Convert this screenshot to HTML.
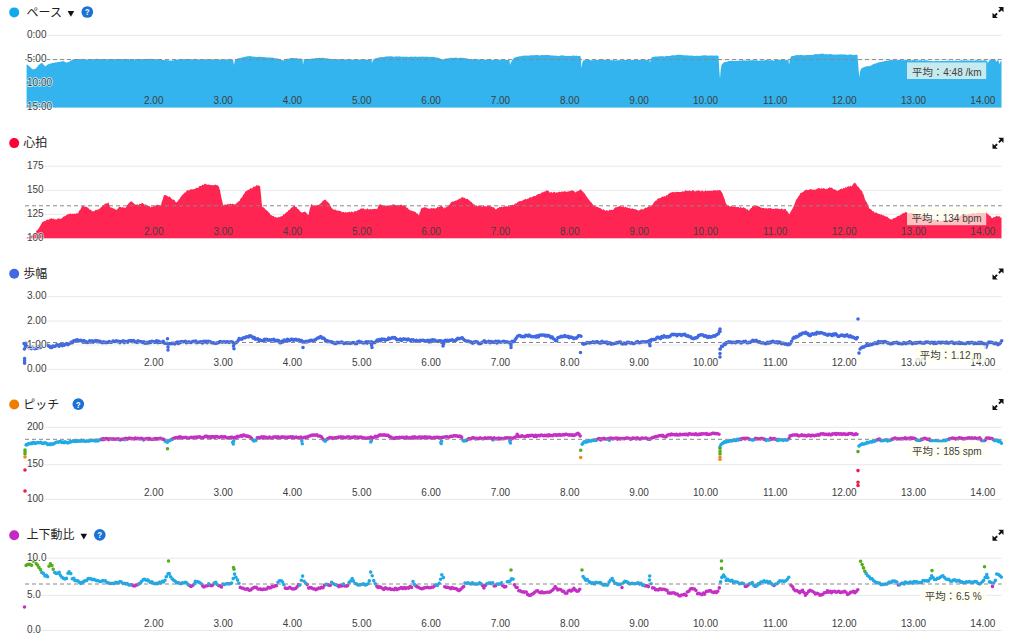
<!DOCTYPE html>
<html lang="ja"><head><meta charset="utf-8"><title>chart</title>
<style>
html,body{margin:0;padding:0;background:#fff;width:1024px;height:643px;overflow:hidden}
svg{display:block}
text{font-family:"Liberation Sans","Noto Sans CJK JP",sans-serif;fill:#404040}
.t{font-size:12px;fill:#222}
.y{font-size:10px;paint-order:stroke;stroke:#fff;stroke-width:1.5px;stroke-linejoin:round;stroke-opacity:.8}
.x{font-size:10px;text-anchor:end}
.a{font-size:10px;text-anchor:end}
.j{font-size:10.4px}
.g{stroke:#e6e6e6;stroke-width:.9;fill:none}
.d{stroke:#888;stroke-width:1;stroke-dasharray:4 3;fill:none}
.p{fill:none;stroke-width:3.6;stroke-linecap:round}
</style></head><body>
<svg width="1024" height="643" viewBox="0 0 1024 643">
<g>
<circle cx="14.2" cy="12.4" r="5" fill="#11a9ed"/>
<text class="t" x="26.6" y="16.6">ペース</text>
<path d="M67.6 10.9h6.6l-3.3 5.8z" fill="#111"/>
<circle cx="87.3" cy="12" r="5.85" fill="#1a73d4"/><text transform="translate(87.3 15.4) scale(.8 1)" x="0" y="0" font-size="9.2" font-weight="bold" style="fill:#fff" text-anchor="middle">?</text>
<g fill="#111" stroke="#111" stroke-width="1.9"><path stroke="none" d="M998.3 7h5.2v5.2z"/><path d="M1001.5 9l-2.6 2.6"/><path stroke="none" d="M992.5 12.8v5.2h5.2z"/><path d="M994.5 16l2.6 -2.6"/></g>
<path class="g" d="M25.5 35.4H1001.7"/>
<path class="g" d="M25.5 59.4H1001.7"/>
<path class="g" d="M25.5 83.4H1001.7"/>
<path class="g" d="M25.5 107.5H1001.7"/>
<path d="M26.6 107.6L26.6 64.5L27.8 65.1L29 66L30.2 67L31 68L31.4 68.4L32.6 68.9L33 69.4L33.8 69.2L35 68.7L36 68.5L36.2 68L37.4 66.8L38 66L38.6 65.1L39.8 64.2L40 64L41 63.2L42 63L42.2 63L43.4 64.4L44 65L44.6 65.8L45.5 66.5L45.8 66L47 65L48.2 64.2L49.4 63.9L50 63.5L50.6 63.6L51.8 63.2L53 62.8L54.2 62.9L55 62.5L55.4 62.2L56.6 62.6L57.8 62.1L59 61.9L60 62L60.2 61.7L61.4 61.4L62.6 61.3L63 61L63.8 61.2L65 62L66 62.5L66.2 62.6L67.4 62.2L68.6 62.1L69 62L69.8 61.2L71 60.4L72 60L72.2 59.8L73.4 59.6L74.6 59.1L75 59L75.8 58.9L77 59.1L78.2 59L79.4 58.9L80 59L80.6 59.2L81.8 59.2L83 58.9L84.2 59.2L85.4 59.2L86.6 59.4L87.8 59.4L89 59.1L90 59.3L90.2 59.6L91.4 59L92.6 59.2L93.8 59.3L95 58.9L96.2 59.1L97.4 58.8L98.6 59.1L99.8 59.2L100 59L101 59.1L102.2 59.3L103.4 59L104.6 59.2L105.8 59.2L107 59.2L108.2 59.1L109.4 59.4L110 59.2L110.6 59.5L111.8 59.1L113 59.2L114.2 58.9L115.4 59.2L116.6 59.2L117.8 59.3L119 59.2L120 59L120.2 58.9L121.4 59L122.6 59.2L123.8 58.9L125 59.2L126.2 59L127.4 59.1L128.6 59.1L129.8 59.6L130 59.4L131 59.1L132.2 59.2L133.4 59.2L134.6 59.4L135.8 58.9L137 59.1L138.2 59.1L139.4 59.3L140 59L140.6 59.2L141.8 59.2L143 58.9L144.2 58.9L145.4 58.9L146.6 59.2L147.8 59.3L149 58.8L150 59L150.2 58.8L151.4 58.9L152.6 59L153.8 59.2L155 59.3L156.2 59.2L157.4 59.1L158.6 59.4L159.8 59.4L160 59.5L161 59.6L162.2 60L163.4 60L164.6 60L165 60L165.8 60.2L167 60.3L168.2 60.1L169.4 60.7L170 60.5L170.6 60.6L171.8 60.5L173 60.4L174.2 60L175 60L175.4 59.9L176.6 59.6L177.8 59.8L179 59.3L180 59.5L180.2 59.2L181.4 59.3L182.6 59.2L183.8 59.3L185 59.1L186.2 59.1L187.4 59.1L188.6 59.1L189.8 59.2L190 59.3L191 59L192.2 59.6L193.4 59.4L194.6 59.2L195.8 59.3L197 59.3L198.2 59.4L199.4 59.3L200 59.5L200.6 59.7L201.8 59.8L203 59.5L204.2 59.5L205.4 59.3L206.6 59.3L207.8 59.4L209 59.4L210 59.5L210.2 59.7L211.4 59.3L212.6 59.2L213.8 59.8L215 59.5L216.2 59.3L217.4 59.5L218.6 59.2L219.8 59.5L220 59.5L221 59.8L222.2 59.7L223.4 59.6L224.6 59.4L225.8 59.4L227 59.3L228.2 59.7L229.4 59.5L230.6 59.7L231.8 59.4L233 59.5L234 65L234.2 63.8L235 60L235.4 59.9L236.6 59.1L237 58.5L237.8 58.6L239 58.3L240.2 58.1L241.4 57.8L242 57.5L242.6 57.2L243.8 57.2L245 56.8L246.2 56.4L247 56.5L247.4 56.2L248.6 56.2L249.8 56.1L251 56.2L252.2 56.4L253.4 56.7L254.6 56.5L255.8 56.9L257 57L258 56.8L258.2 57.1L259.4 56.8L260.6 56.8L261.8 56.9L263 56.9L264.2 57L265 57.2L265.4 57.3L266.6 57.5L267.8 57.5L269 57.4L270.2 57.5L271.4 57.7L272 57.5L272.6 57.4L273.8 57.9L275 58.2L276.2 58.4L277.4 58.6L278 58.5L278.6 58.8L279.8 59.2L280 59.5L281 60L282.2 60.1L283 60.5L283.4 60.5L284.6 60L285.8 59L286 59L287 58.8L288.2 58.9L289.4 58.5L290 58.3L290.6 58.1L291.8 58L293 57.9L294.2 58.3L295 58L295.4 58.2L296.6 57.9L297.8 58.5L299 58.7L300 58.5L300.2 58.6L301.4 58.7L302.5 59L302.6 60.2L303 65L303.8 59.5L305 59L306 59L306.2 58.7L307.4 59.2L308.6 58.9L309.8 58.7L311 58.8L312 58.5L312.2 58.4L313.4 58.6L314.6 58.5L315.8 58L317 57.9L318 58L318.2 57.9L319.4 57.8L320.6 57.9L321.8 57.7L322 57.8L323 57.9L324.2 57.8L325.4 58.4L326.6 58.2L327.8 58.5L328 58.5L329 58.7L330.2 59L331.4 58.8L332.6 59.3L333.8 59.2L335 59.3L336.2 59.3L337.4 59.4L338.6 59.1L339.8 59.4L341 59.2L342.2 59.1L343.4 59.6L344.6 59.3L345 59.5L345.8 59.5L347 59.6L348.2 59.5L349.4 59.4L350.6 59.5L351.8 59.5L353 59.7L354.2 59.3L355 59.5L355.4 59.5L356.6 59.4L357.8 59.4L359 59.7L360.2 59.6L361.4 59.7L362.6 59.8L363.8 59.9L365 59.7L366.2 59.6L367.4 59.7L368.6 59.6L369.8 59.6L371 59.6L371.5 59.5L372 63L372.2 62.4L373 60L373.4 59.7L374.6 58.8L375 58.5L375.8 58.5L377 58L378 57.5L378.2 57.7L379.4 57.6L380.6 57L381.8 57.1L382 57L383 57.2L384.2 57.1L385.4 56.6L386.6 56.5L387.8 56.6L389 56.3L390 56.5L390.2 56.3L391.4 56.2L392.6 56.6L393.8 56.7L395 56.7L396.2 56.3L397.4 56.6L398.6 56.6L399.8 56.3L400 56.5L401 56.8L402.2 56.8L403.4 56.4L404.6 56.9L405.8 56.6L407 56.7L408.2 57L409.4 57L410 56.8L410.6 56.6L411.8 56.8L413 56.8L414.2 56.7L415.4 56.6L416.6 56.7L417.8 56.9L419 56.5L420 56.8L420.2 56.8L421.4 56.8L422.6 56.5L423.8 56.7L425 56.8L426.2 56.7L427.4 56.5L428.6 57L429.8 56.9L430 56.7L431 57.1L432.2 56.8L433.4 57L434.6 57L435.8 57.6L436 57.5L437 57.6L438.2 57.8L439.4 58.3L440 58.5L440.6 59L441.8 59.4L443 59.6L444.2 59L445.4 58.5L446 58.5L446.6 58.7L447.8 58.3L449 58.2L450 58L450.2 57.7L451.4 57.7L452.6 58L453.8 57.7L455 57.7L456.2 57.5L457.4 58L458.6 57.9L459.8 58L460 57.8L461 57.6L462.2 58.1L463.4 57.7L464.6 58.2L465 58L465.8 58.2L467 58.4L468 58.8L468.2 58.9L469.4 59.2L470.6 59L471.8 59.1L472 59.3L473 59.4L474.2 59.2L475.4 59.2L476.6 59.3L477.8 59.2L479 59.4L480 59.6L480.2 59.5L481.4 59.5L482.6 59.8L483.8 59.5L485 59.7L486.2 59.5L487.4 59.7L488.6 59.5L489.8 59.6L490 59.8L491 59.5L492.2 59.9L493.4 59.8L494.6 59.6L495.8 59.8L497 60.1L498.2 59.6L499.4 60L500 59.8L500.6 59.8L501.8 59.8L503 60L504.2 59.7L505.4 59.8L506.6 59.9L507.8 60.1L509 59.7L509.5 59.8L510 65L510.2 64.6L511 62L511.4 61.5L512.6 59.7L513 59L513.8 58.3L515 57.5L516.2 57.1L517.4 56.7L518 56.8L518.6 56.5L519.8 56.2L521 56.3L522 56L522.2 55.8L523.4 55.7L524.6 55.5L525.8 55.8L527 55.5L528.2 55.7L529.4 55.5L530.6 55.2L531.8 55.2L533 55.2L534.2 55.2L535 55.2L535.4 55L536.6 55.1L537.8 55L539 55.4L540.2 55.4L541.4 55.1L542.6 54.9L543.8 55.3L545 55L546.2 55L547.4 55.1L548.6 55L549.8 55.3L551 55.4L552 55.5L552.2 55.5L553.4 55.5L554.6 55.8L555.8 55.6L557 55.9L558 56.2L558.2 55.9L559.4 55.9L560.6 55.5L561.8 55.3L562 55.6L563 55.5L564.2 55.6L565.4 55.9L566.6 55.9L567.8 56.1L568 56L569 56L570.2 55.9L571.4 55.9L572.6 55.6L573.8 55.4L574 55.5L575 55.9L576.2 55.5L577.4 55.9L578.6 56L579.8 55.7L580 56L580.8 57L581 61.8L581.3 68.5L582 64L582.2 63.5L583 60.5L583.4 60.5L584.6 60.2L585 60L585.8 60.2L587 59.8L588.2 60L589.4 60L590.6 60.2L591.8 60.2L593 60.2L594.2 60.1L595 60L595.4 60.2L596.6 60.1L597.8 60.1L599 59.8L600.2 59.6L601.4 59.7L602.6 59.8L603.8 59.6L605 59.8L606.2 60.1L607.4 60L608.6 60.1L609.8 60.1L611 60.2L612.2 60.2L613.4 59.9L614.6 60.5L615 60.3L615.8 60.4L617 60.2L618.2 60.2L619.4 60.3L620.6 59.9L621.8 60.2L623 59.9L624.2 59.8L625 60L625.4 59.9L626.6 60.1L627.8 59.8L629 60.1L630.2 60.3L631.4 60L632.6 59.9L633.8 60L635 60L636.2 60.1L637.4 60.1L638.6 60L639.8 60L641 59.6L642.2 59.6L643.4 59.7L644.6 60L645 59.8L645.8 59.7L647 59.9L648.2 59.6L649.4 59.7L649.5 60L650 63L650.6 59.9L650.8 59L651.8 57.4L652 57L653 57L654.2 56.8L655.4 56.4L656 56.5L656.6 56.5L657.8 56.4L659 56.4L660.2 56.1L661.4 56.6L662 56.3L662.6 56.1L663.8 56.5L665 56.4L666.2 55.8L667.4 56L668 56L668.6 56.1L669.8 56.1L671 55.6L672 55.5L672.2 55.3L673.4 55.2L674.6 55.4L675.8 54.9L676 55L677 55L678.2 54.7L679.4 54.8L680 54.8L680.6 55.1L681.8 54.7L683 55.2L684.2 55.2L685.4 55.5L686 55.3L686.6 55.5L687.8 55.3L689 55.8L690.2 55.6L691.4 55.5L692 55.8L692.6 55.5L693.8 55.9L695 55.9L696.2 55.8L697.4 55.8L698 56L698.6 55.8L699.8 55.7L701 55.9L702.2 55.2L703.4 55.5L704 55.3L704.6 55.5L705.8 55.1L707 55.7L708.2 55.6L709.4 55.7L710 55.5L710.6 55.4L711.8 55.4L713 55.4L714.2 55.8L715.4 55.6L716 55.5L716.6 55.5L717.8 55.7L718.5 55.8L719 64.5L719.3 70L720 78.7L720.2 75.9L720.7 70L721.4 65.4L721.5 65L722.6 63.7L723 63L723.8 62.5L725 62L726.2 62L727.4 61.4L728.6 61.1L729.8 61L730 61L731 60.8L732.2 60.8L733.4 61.1L734.6 61L735 60.7L735.8 60.9L737 60.7L738.2 60.8L739.4 60.8L740 60.5L740.6 60.5L741.8 60.6L743 60.2L744.2 60.6L745.4 60.4L746.6 60.5L747.8 60.4L749 60.2L750 60.3L750.2 60L751.4 60.6L752.6 60.1L753.8 60.4L755 60.3L756.2 60.3L757.4 60.6L758.6 60.8L759.8 60.4L760 60.5L761 60.6L762.2 60.3L763.4 60.4L764.6 60.3L765.8 60.1L767 60.1L768.2 60.1L769.4 60.5L770 60.2L770.6 60.2L771.8 60L773 60.4L774.2 60.4L775.4 60.1L776.6 59.9L777.8 59.9L779 59.8L780 60L780.2 59.9L781.4 59.8L782.6 59.8L783.8 59.9L785 60L786.2 60.2L787.4 60.1L788.5 60L788.6 60.9L789 65L789.8 60L791 56.5L792.2 56.1L793.4 55.9L794.6 55.5L795 55.5L795.8 55.3L797 55L798.2 55L799.4 55.3L800 55L800.6 54.8L801.8 55.1L803 55.2L804.2 55.4L805.4 55L806 55.2L806.6 55L807.8 54.9L809 54.9L810.2 54.9L811.4 55.1L812 54.8L812.6 54.9L813.8 54.8L815 54.1L816 54.2L816.2 53.9L817.4 54.2L818.6 54.2L819.8 53.8L820 53.8L821 53.9L822.2 53.6L823.4 53.8L824.6 54.2L825.8 54.2L826 54L827 54.3L828.2 54.5L829.4 54.1L830.6 54.1L831.8 54.3L832 54.5L833 54.5L834.2 54.5L835.4 54.7L836.6 54.5L837.8 54.4L838 54.3L839 54.5L840.2 54.3L841.4 54.4L842.6 54.2L843.8 54.6L845 54.5L846.2 54.4L847.4 54.9L848.6 54.7L849.8 54.6L851 54.5L852 54.8L852.2 54.7L853.4 54.9L854.6 55L855.8 54.7L857 54.7L857.5 55L858.2 64.6L858.3 66L859.3 77.5L859.4 76.8L860 72L860.6 70.1L861 69L861.8 68.2L863 67.5L864.2 67.2L865.4 66.4L866 66.5L866.6 66.3L867.8 66.2L869 66.3L870 65.8L870.2 65.8L871.4 65.4L872.6 64.6L873.8 63.9L874 64L875 63.4L876.2 63.4L877 62.8L877.4 62.8L878.6 62.4L879.8 62L881 62L882.2 61.7L883.4 61.5L884.6 61.1L885 61L885.8 60.7L887 60.8L888.2 60.8L889.4 60.2L890 60.3L890.6 60L891.8 60.1L893 60.1L894.2 60.2L895 60L895.4 59.8L896.6 60.2L897.8 60.1L899 60L900.2 59.8L901.4 60.3L902.6 59.9L903.8 60.2L905 60L906.2 59.9L907.4 59.9L908.6 60.3L909.8 60L911 60.5L912.2 60.2L913.4 60.1L914.6 60.1L915 60.3L915.8 60.3L917 60.4L918.2 60.6L919.4 60.2L920.6 60.3L921.8 60.3L923 60.7L924.2 60.3L925 60.5L925.4 60.3L926.6 60.3L927.8 60.6L929 60.9L930.2 61L931.4 61L932.6 61.2L933.8 61.2L935 61L936.2 60.9L937.4 60.8L938.6 61.3L939.8 61.1L941 60.7L942.2 61.1L943.4 60.9L944.6 60.9L945 61L945.8 60.9L947 60.8L948.2 60.6L949.4 60.8L950.6 60.8L951.8 61.1L953 60.6L954.2 61.1L955 60.8L955.4 60.6L956.6 60.7L957.8 60.9L959 60.9L960.2 60.6L961.4 60.3L962.6 60.6L963.8 60.5L965 60.5L966.2 60.8L967.4 60.3L968.6 60.4L969.8 60.7L971 60.2L972.2 60.4L973.4 60.7L974.6 60.7L975 60.5L975.8 60.2L977 60.2L978.2 60.2L979.4 60.7L980.6 60.2L981.8 60.5L983 60.6L984.2 60.2L985 60.3L985.4 60.3L986.6 61.1L987 61L987.8 62.7L988 63L989 61L990.2 59.7L990.5 59.5L991.4 59.6L992.6 59.2L993 59.3L993.8 59.3L995 59.4L995.5 59.8L996.2 61.9L996.3 62L997.2 60L997.4 60.3L998.5 60.5L998.6 60.9L999.5 64L999.8 63.5L1000.3 62L1001 61.1L1001.5 61L1001.5 107.6Z" fill="#33b4ee"/>
<path class="d" d="M25 59.6H1001.7"/>
<text class="y" x="27" y="37.9">0:00</text>
<text class="y" x="27" y="61.9">5:00</text>
<text class="y" x="27" y="85.9">10:00</text>
<text class="y" x="27" y="110">15:00</text>
<text class="x" x="163.5" y="104.2">2.00</text>
<text class="x" x="232.9" y="104.2">3.00</text>
<text class="x" x="302.2" y="104.2">4.00</text>
<text class="x" x="371.5" y="104.2">5.00</text>
<text class="x" x="440.8" y="104.2">6.00</text>
<text class="x" x="510.1" y="104.2">7.00</text>
<text class="x" x="579.5" y="104.2">8.00</text>
<text class="x" x="648.8" y="104.2">9.00</text>
<text class="x" x="718.1" y="104.2">10.00</text>
<text class="x" x="787.4" y="104.2">11.00</text>
<text class="x" x="856.7" y="104.2">12.00</text>
<text class="x" x="926.1" y="104.2">13.00</text>
<text class="x" x="995.4" y="104.2">14.00</text>
<rect x="907" y="62.4" width="79.2" height="16.6" fill="#ffffee" fill-opacity="0.72"/>
<text class="a" x="981.6" y="75.7"><tspan class="j">平均：</tspan>4:48 /km</text>
</g>
<g>
<circle cx="14.2" cy="143.1" r="5" fill="#ff0035"/>
<text class="t" x="23.2" y="147.3">心拍</text>
<g fill="#111" stroke="#111" stroke-width="1.9"><path stroke="none" d="M998.3 137.7h5.2v5.2z"/><path d="M1001.5 139.7l-2.6 2.6"/><path stroke="none" d="M992.5 143.5v5.2h5.2z"/><path d="M994.5 146.7l2.6 -2.6"/></g>
<path class="g" d="M25.5 166.2H1001.7"/>
<path class="g" d="M25.5 190.4H1001.7"/>
<path class="g" d="M25.5 214.3H1001.7"/>
<path class="g" d="M25.5 238.1H1001.7"/>
<path d="M26.6 238.3L26.6 238L27.6 237.3L28.6 237.4L29.6 237.8L30 237L30.6 237.2L31.6 235.6L32.6 234.7L33.6 234.2L34 234L34.6 233.3L35.6 232.8L36.6 230.6L37.5 230L37.6 230.3L38.6 228.6L39.6 227.1L40 226L40.6 225.3L41.6 223.4L42 222.5L42.6 222L43.6 221.4L44.6 221L45.6 221.1L46 220.5L46.6 219.7L47.6 219.5L48.6 219.9L49.6 218.8L50 219L50.6 218.4L51.6 218.3L52.6 219L53.6 218.6L54.6 219.5L55 218.8L55.6 219.4L56.6 219.5L57.6 218.6L58.6 218.4L59.6 218.4L60 219L60.6 218.7L61.6 218.5L62 218L62.6 217.5L63.6 216.6L64.6 216.2L65 216L65.6 215.7L66.6 215.1L67.6 214.4L68 213.8L68.6 214.3L69.6 214L70.6 213.3L71.6 214.3L72.6 213.5L73 213.8L73.6 213.9L74.6 213.5L75.6 214L76.6 213.2L77.6 213.2L78 213.5L78.6 212.1L79.6 210.2L80 210L80.6 209.3L81.6 206.9L82 206L82.6 205.9L83.6 206.1L84.6 207.1L85 206.5L85.6 206.7L86.6 206.7L87.6 207.8L88 207.5L88.6 208.3L89.6 209.8L90 209.5L90.6 209.4L91.6 210.7L92 211L92.6 211.3L93.6 211.2L94.6 211.1L95 210.5L95.6 209.8L96.6 209.9L97.6 209.5L98 210L98.6 209L99.6 209.1L100 208L100.6 207.5L101.6 207L102.6 205.2L103 205L103.6 205.2L104.6 204.1L105.6 203.4L106 203.5L106.6 203.5L107.6 203.2L108 202.3L108.6 202.8L109 204L109.6 205.9L110 207L110.6 207.5L111.6 207.4L112.6 208.1L113 208.5L113.6 208.3L114.6 208.9L115.6 209.5L116 210L116.6 209.7L117.6 209L118 208.5L118.6 207.6L119.6 206.6L120 207L120.6 206.9L121.6 207.5L122.6 207L123 207.5L123.6 207.4L124.6 207.5L125 208L125.6 207.7L126.6 206.2L127.6 204.4L128 204.5L128.6 203.2L129.6 202.5L130.6 201.5L131 201L131.6 201.8L132.6 202L133 203L133.6 202.9L134.6 204.3L135.6 204.6L136 205L136.6 204.5L137.6 204.3L138.6 205L139.6 203.8L140 204L140.6 203.9L141.6 203.3L142.6 203L143 203L143.6 203.9L144.6 204.7L145.6 204.4L146.6 204.8L147 205.5L147.6 206.1L148.6 205.9L149.6 206.1L150 207L150.6 207.4L151.6 206.5L152.6 206.8L153.6 206L154 206L154.6 206.4L155.6 205.5L156.6 204.9L157.6 204.4L158 205L158.6 205.1L159.6 205.2L160.6 205.6L161 205L161.6 202.4L162.5 200L162.6 199.8L163.6 196.2L164 195L164.6 195.2L165.6 195L166.6 195.6L167 196L167.6 196.2L168.6 197.1L169.6 196.3L170 197L170.6 197.5L171.6 198.8L172.6 199.8L173 199.5L173.6 199.6L174.6 200.3L175.6 202.3L176 202L176.6 202.4L177.6 201.2L178 201L178.6 199.5L179.6 199.2L180 198L180.6 196.9L181.6 196.2L182 195L182.6 194.7L183.6 194.1L184.6 192.4L185 192.5L185.6 192.4L186.6 190.8L187.6 190.2L188 190L188.6 190.4L189.6 190.3L190.6 189.2L191.6 189.2L192 189.5L192.6 189.3L193.6 189.3L194.6 188.9L195 189L195.6 188.2L196.6 187.8L197.6 188L198 187.5L198.6 187.6L199.6 185.7L200 186L200.6 185.9L201.6 185.8L202.6 184.5L203 185L203.6 185.1L204.6 183.5L205 183.8L205.6 184.1L206.6 184.4L207.6 184.8L208 184.8L208.6 184.6L209.6 184.8L210 185L210.6 185.1L211.6 185L212.6 185.4L213.6 185.1L214 185.2L214.6 185.1L215.6 184.4L216.6 185.2L217 185L217.6 185.6L218.6 186.2L219 187L219.6 189.2L220 190L220.6 193.6L221.5 198L221.6 198.4L222.6 202.7L223 205L223.6 205L224.6 204.4L225.6 204.5L226 205L226.6 204.8L227.6 204L228.6 204.3L229.6 204.1L230 204L230.6 203.4L231.6 204.2L232.6 203.4L233.6 204.3L234.6 204.4L235.6 204L236 204L236.6 202.8L237.6 202.4L238 202L238.6 201.2L239.6 201L240 200L240.6 198.5L241.6 197.8L242.6 196.4L243 195L243.6 194.5L244.6 193.3L245.6 191.1L246 191L246.6 191.3L247.6 189.9L248.6 189.9L249 189L249.6 189.4L250.6 188L251.6 188.5L252 188L252.6 188.3L253.6 186.6L254.6 186.5L255.6 186.6L256 186L256.6 184.9L257 185L257.6 185.8L258.6 185.2L259.6 186.3L260 186L260.6 190.9L261 195L261.6 201.6L262 206L262.6 207.2L263.6 207.2L264 208L264.6 208.3L265.6 209.6L266 210L266.6 210.3L267.6 211L268.6 212.2L269.6 213.1L270 214L270.6 215L271.6 215.3L272.6 216.3L273 216L273.6 215.8L274.6 217.2L275.6 216.8L276 217.5L276.6 217.4L277.6 217.4L278.6 216.9L279 217L279.6 217.3L280.6 216.5L281.6 216.2L282 216L282.6 216L283.6 214.1L284.6 214.5L285 213.5L285.6 213.2L286.6 212L287.6 211.8L288 211L288.6 210.1L289.6 210.1L290.6 208.5L291 208L291.6 207.4L292.6 207.2L293.6 206L294 205.8L294.6 205.7L295.6 207.1L296 207L296.6 207L297.6 209L298 209L298.6 209.3L299.6 210.8L300 211L300.6 212.1L301.6 212.3L302 212.5L302.6 212.6L303.6 212L304.6 211.4L305 212L305.6 211.9L306.6 213.1L307 214L307.6 214.6L308.5 215L308.6 214.4L309.5 210L309.6 209.7L310.6 206.5L311 204.5L311.6 204.3L312.6 204.9L313 205.5L313.6 205.9L314.6 205.2L315 206L315.6 205.2L316.6 205.4L317 205.5L317.6 204.8L318.6 204.9L319 205L319.6 204L320.6 203.5L321.6 202.5L322 202L322.6 201L323.6 200.6L324 200L324.6 200L325.6 199.5L326 200L326.6 201.4L327.6 201.6L328 202.5L328.6 202.8L329.6 203.9L330 205L330.6 206.1L331.6 207.9L332 208L332.6 209L333.6 209.5L334 210L334.6 209.8L335.6 209.6L336.6 210.6L337 210.5L337.6 210.7L338.6 210.6L339.6 211.1L340 211L340.6 211.1L341.6 212.1L342.6 212.2L343 212L343.6 211.7L344.6 212.8L345.6 211.8L346 212.5L346.6 212.5L347.6 212.2L348.6 211.9L349.6 211.5L350.6 212.4L351 212L351.6 211.3L352.6 211.9L353.6 212.4L354.6 211.1L355.6 211.1L356 211.5L356.6 211.2L357.6 210.3L358 210L358.6 210L359.6 209.8L360.6 208.5L361 208.8L361.6 208.6L362.6 208.6L363.6 208.3L364.6 209.5L365.6 209.4L366 209L366.6 209.3L367.6 208.3L368.6 209.5L369.6 209.3L370 209L370.6 209L371.6 209.5L372.6 209.1L373.6 208.9L374 209.3L374.6 208.8L375.6 209L376.6 208.8L377 209.5L377.6 207.9L378.5 206L378.6 206.2L379.6 204.7L380 203.8L380.6 204.6L381.6 205.1L382 205L382.6 205L383.6 205.9L384 206L384.6 205.8L385.6 206.2L386.6 205.7L387.6 205.2L388 205.5L388.6 205.6L389.6 206L390.6 204.8L391.6 205.6L392 205L392.6 204.3L393.6 204.7L394.6 204.6L395.6 205.3L396 205L396.6 205.6L397.6 205.3L398.6 204.8L399.6 205.5L400 205L400.6 204.8L401.6 204.8L402.6 205.8L403.6 205.5L404.6 205.7L405 205.5L405.6 206.3L406.6 207.8L407 207.5L407.6 208L408.6 209.3L409.6 209.9L410 210L410.6 210.7L411.6 210.4L412.6 211.2L413 211L413.6 211.4L414.6 211.5L415 212L415.6 212L416.6 213.4L417 213.5L417.6 213.4L418.6 215.3L419 215L419.6 212.9L420.5 211L420.6 210.1L421.6 207.9L422 207.5L422.6 208.2L423.6 207.5L424.6 207.3L425.6 207.3L426 208L426.6 207.4L427.6 208.5L428.6 208.5L429.6 208.7L430 208.5L430.6 208.8L431.6 207.8L432.6 208.4L433.6 208L434.6 208.6L435.6 208.5L436 208L436.6 208.2L437.6 206.6L438 207L438.6 207.2L439.6 206.8L440.6 206.3L441 205.5L441.6 205.5L442.5 207L442.6 206.7L443.6 207.8L444 208.8L444.6 207.6L445.6 207.8L446 207L446.6 207.1L447.6 206.4L448 206L448.6 205.9L449.6 204.6L450 204L450.6 203.1L451.6 201.8L452 202L452.6 201.2L453.6 201.8L454.6 200.7L455 201L455.6 200.5L456.6 200.4L457.6 199.5L458 200L458.6 199.2L459.6 198.5L460 198.5L460.6 198.5L461.6 197.5L462.6 196.9L463 197L463.6 197.9L464.6 197.8L465 198L465.6 198.8L466.6 199L467 199L467.6 198.7L468.6 199.9L469.6 200.6L470 201L470.6 201.8L471.6 202L472 202.5L472.6 203.4L473.6 204.2L474 204.5L474.6 204.6L475.6 206.2L476 206L476.6 205.4L477.6 206.4L478.6 205.5L479.6 205.3L480 206L480.6 205.6L481.6 206.4L482.6 206.8L483.6 205.5L484.6 206.2L485 206.2L485.6 206.2L486.6 206.6L487.6 205.7L488.6 206L489.6 205.8L490 206L490.6 206.7L491.6 206.2L492.6 207.5L493 207L493.6 207.2L494.6 207.9L495.6 209.4L496 209.5L496.6 209L497.6 207.8L498 208L498.6 207.9L499.6 206.6L500 207L500.6 207.3L501.6 207.1L502.6 207.1L503.6 206.8L504.6 206.3L505 206.5L505.6 206.3L506.6 206.2L507.6 206.8L508.6 205.6L509.6 206.6L510 206L510.6 205.1L511.6 205.1L512.6 204.8L513 205L513.6 205.2L514.6 204L515 203.8L515.6 203.3L516.6 203.4L517.6 201.9L518 202L518.6 201.6L519.6 201.2L520 201L520.6 201.2L521.6 200.9L522.6 200.4L523.6 199.7L524 199.8L524.6 199.4L525.6 198.8L526.6 199.4L527 198.8L527.6 198.8L528.6 198.4L529.6 197.2L530 197.5L530.6 197.3L531.6 197.5L532 197L532.6 196.9L533.6 195.9L534.6 196.1L535 196L535.6 196.2L536.6 194.8L537 195L537.6 194.3L538.6 193.9L539.6 194L540 193.5L540.6 193.8L541.6 192.5L542.6 192.2L543 192.5L543.6 191.8L544.6 191.5L545 191.5L545.6 191.2L546.6 190.2L547 190.5L547.6 190.6L548.6 190.9L549 191.5L549.6 192.4L550.6 192.4L551.6 191.8L552 192.5L552.6 193.1L553.6 191.8L554.6 192.1L555.6 192.9L556 192.2L556.6 192.6L557.6 192.4L558.6 192L559.6 191.6L560 192L560.6 192.2L561.6 191.4L562.6 191.5L563.6 191.7L564 191.8L564.6 191.1L565.6 191.5L566.6 191.9L567 191.5L567.6 191.7L568.6 191.2L569.6 191.3L570 191L570.6 190.8L571.6 190.2L572.6 190.7L573 190.5L573.6 190.8L574.5 191.5L574.6 191.9L575.6 192.4L576 192L576.6 191.6L577.6 191.3L578 191L578.6 191L579.6 190.1L580.6 189.3L581 189.5L581.6 190.4L582.6 191.6L583 191.5L583.6 192.6L584.6 193.6L585 193.8L585.6 195.3L586.6 196.6L587 197L587.6 198.1L588.6 199.2L589.6 200.5L590 201.3L590.6 202.1L591.6 202.5L592 203.5L592.6 204L593.6 205.5L594 205.5L594.6 206.1L595.6 206.5L596.6 206.5L597 207L597.6 207.1L598.6 207.5L599.6 208L600 208L600.6 208.2L601.6 209L602.6 209.9L603 209.5L603.6 209.3L604.6 210.2L605.6 210.8L606 210.5L606.6 210.3L607.6 210.4L608.6 211L609 210.3L609.6 209.6L610.6 210.2L611.6 209.6L612 210L612.6 209.9L613.6 209.4L614 208.5L614.6 208.2L615.6 207.1L616 207.5L616.6 207.3L617.6 206.8L618 206.5L618.6 206.7L619.6 206.1L620 206L620.6 206.3L621.6 206.7L622.6 206.5L623 206.5L623.6 206.5L624.6 207.4L625.6 206.5L626 207L626.6 207.5L627.6 207.4L628.6 208.2L629 208L629.6 207.6L630.6 209.1L631.6 208.5L632 208.8L632.6 208.3L633.6 208.9L634.6 209.3L635.6 209L636 209.8L636.6 209.8L637.6 210.1L638.6 210.7L639 210.5L639.6 210.1L640.6 209.5L641.6 209.1L642 209.3L642.6 209.4L643.6 209.2L644.6 208.2L645 208L645.6 207.4L646.6 207.9L647.6 207L648 207L648.6 206.4L649.6 205.9L650.6 206.4L651.6 206.1L652 205.5L652.6 204.7L653.5 203L653.6 202.8L654.6 201.8L655 201.3L655.6 200.4L656.6 200.5L657 199.5L657.6 198.8L658.6 198.5L659 198L659.6 198.2L660.6 197.9L661.6 197.1L662 197L662.6 196.6L663.6 196.7L664.6 195.9L665 196.3L665.6 196.4L666.6 195.1L667.6 195.2L668 194.5L668.6 193.8L669.6 193.3L670.6 192.4L671 192.5L671.6 192.4L672.6 192L673.6 191.7L674.6 192.6L675 192.3L675.6 192L676.6 191.8L677.6 191.9L678.6 192.1L679.6 191.9L680 192L680.6 192L681.6 191.8L682.6 191.2L683.6 191.7L684 191L684.6 191.4L685.6 190.1L686.6 191L687 190.5L687.6 191.1L688.6 191L689.6 190.2L690.6 191.2L691.6 191L692 190.8L692.6 190.2L693.6 190.2L694.6 191.6L695.6 191.2L696 191L696.6 190.7L697.6 190.4L698.6 190.5L699.6 190.6L700 191L700.6 191.4L701.6 190.7L702.6 190.4L703.6 191.4L704.6 191.2L705 190.8L705.6 190.3L706.6 191.3L707.6 190.8L708.6 191L709.6 190.8L710 190.5L710.6 191L711.6 190.8L712.6 190.9L713.6 189.9L714.6 190.6L715 190.3L715.6 190.3L716.6 190.5L717.6 190.1L718.6 190.6L719.6 190.1L720 190L720.6 190.5L721.5 192L721.6 191.8L722.6 193.7L723 195L723.6 196.6L724.5 199L724.6 198.7L725.6 202.5L726 203.8L726.6 204L727 205L727.6 205.6L728 206L728.6 206L729.6 206.2L730.6 206.7L731.6 205.6L732 206.3L732.6 206.8L733.6 206.4L734.6 206.6L735 206.5L735.6 206.8L736.6 207.2L737.6 206.7L738.6 207L739.6 207.9L740 207.3L740.6 206.8L741.6 207.7L742.6 207.9L743.6 207.1L744.6 208.1L745 208L745.6 208.6L746.6 209.6L747 209.2L747.6 209.3L748.6 210.8L749 210.4L749.6 209.7L750.6 208.5L751 208L751.6 208L752.6 205.7L753 206L753.6 206.3L754.6 206.2L755.5 206L755.6 205.8L756.6 206.5L757.6 205.8L758 206L758.6 206.3L759.6 206.8L760 207L760.6 207.7L761.6 207.4L762 208L762.6 207.9L763.6 208L764.6 208.2L765.6 208.6L766.6 207.9L767.6 208.7L768.6 208.1L769.6 208.3L770 208.3L770.6 208L771.6 208.4L772.6 209.1L773.6 208.7L774.6 208.9L775.6 208.3L776.6 208.4L777.6 208.4L778 208.7L778.6 208.8L779.6 209L780.6 209.2L781.6 208.2L782.6 209.2L783.6 209.5L784.6 209L785 209L785.6 209.1L786.6 210.7L787 211.5L787.6 211.6L788.6 213.3L789 214.3L789.6 213.9L790.6 211.8L791 211L791.6 210.2L792.6 208.6L793 207.5L793.6 206.7L794.5 204L794.6 203.9L795.6 201.2L796 200L796.6 199.3L797.6 197.9L798 197L798.6 196.2L799.6 194.9L800 194L800.6 193.1L801.6 193L802.5 192L802.6 191.9L803.6 191.7L804.6 190.2L805 190.5L805.6 189.9L806.6 189.4L807.6 190.2L808 189.7L808.6 190.1L809.6 189.5L810.6 188.9L811 189L811.6 189.6L812.6 189.8L813 189.5L813.6 189.7L814.6 189.6L815 190L815.6 189.4L816.6 189.1L817 189L817.6 188.4L818.6 188.1L819 188L819.6 188.3L820.6 188.9L821.6 187.8L822 188.5L822.6 188.7L823.6 188.1L824.6 188.4L825 189L825.6 189.3L826.6 188.7L827.6 189L828 188.3L828.6 188.1L829.6 187.3L830.6 187.7L831.6 187.8L832 187.6L832.6 188.6L833.6 189.4L834.5 189.3L834.6 189.3L835.6 189.9L836.6 190.2L837 191L837.6 191L838.6 190L839.5 190L839.6 189.5L840.6 188.9L841.6 188.5L842 189L842.6 189L843.6 187.8L844.6 188.6L845 187.8L845.6 187L846.6 187.7L847.6 186.3L848 186.7L848.6 185.9L849.6 186.7L850 186.3L850.6 185.8L851.6 186.4L852 186L852.6 184.8L853.5 184L853.6 183.3L854.6 183.1L855 182.3L855.6 183.5L856.5 184.5L856.6 185.1L857.6 186.4L858 186.7L858.6 186.8L859.6 188.7L860 189L860.6 189.9L861.6 190.5L862 191L862.6 193.1L863.6 194.7L864 196L864.6 198.3L865.6 200.7L866 201.5L866.6 202L867.6 204L868 205.5L868.6 206.8L869.6 208.7L870 209L870.6 208.9L871.6 209.9L872 210.5L872.6 211.3L873.6 211.2L874 212L874.6 212.7L875.6 212.6L876.6 212.4L877 213.2L877.6 213.2L878.6 213.9L879.6 214.1L880 214.3L880.6 214.7L881.6 214.3L882.6 215.6L883 215.3L883.6 215.3L884.6 216.1L885.6 216.4L886 216.4L886.6 216.6L887.6 217.1L888.6 218.2L889 218L889.6 218.9L890.6 219.3L891.6 219.5L892 219.6L892.6 218.9L893.6 218L894.5 218L894.6 218.6L895.6 217.6L896.6 217.1L897 216.4L897.6 215.9L898.6 215.8L899.6 215.9L900 215L900.6 215.1L901.6 214.3L902.6 213.3L903 213.4L903.6 213L904.6 213.1L905 212.3L905.6 212.1L906.6 212.6L907 212.3L907.6 212.6L908.6 213.2L909.6 213.4L910.6 212.9L911.6 212.7L912 213.5L912.6 213.3L913.6 213.9L914.6 214.4L915.6 215L916.6 215.4L917 215L917.6 214.5L918.6 215.8L919.6 216L920.6 216.2L921.6 216L922 216L922.6 215.9L923.6 217L924.6 217.2L925.6 217.3L926.6 218L927.6 217.5L928 217.8L928.6 217.4L929.6 218.3L930.6 219L931.6 218.4L932.6 219.5L933.6 220L934 219.5L934.6 219.3L935.6 220.1L936.6 220.5L937.6 220.5L938.6 220.5L939 221L939.6 220.6L940.6 221.2L941.6 221.1L942.6 220.6L943.6 220L944 220.5L944.6 220.8L945.6 220.6L946.6 219.7L947.6 220.1L948.6 220.4L949.6 220.2L950 219.6L950.6 219.4L951.6 219.1L952.6 218.9L953.6 218L954.6 217.7L955 218L955.6 217.3L956.6 217.7L957.6 216.9L958.6 216.8L959.6 216.2L960 216.2L960.6 216L961.6 215.1L962.6 214.6L963.6 215.5L964 214.7L964.6 214.5L965.6 214L966.6 214.6L967.6 214.7L968.6 213.7L969.6 214.2L970 214L970.6 213.7L971.6 213.8L972.6 213L973.6 212.8L974.6 214L975 213.3L975.6 213.8L976.6 213.1L977.6 213.1L978.6 212.6L979.6 213.2L980 212.8L980.6 212.7L981.6 213.4L982.6 213.1L983.6 213.1L984.6 213.3L985.5 212.6L985.6 212.3L986.6 212.8L987 213.7L987.6 213.8L988.6 214.7L989 215.5L989.6 215.5L990.6 216.3L991.6 217.9L991.8 218L992.6 218.2L993.6 217.1L994 217L994.6 217.3L995.6 216.8L996 216L996.6 215.5L997.6 216.4L998 216.3L998.6 216.4L999.6 216.3L1000.6 217.8L1001.5 217.5L1001.5 238.3Z" fill="#ff2553"/>
<path class="d" d="M25 205.8H1001.7"/>
<text class="y" x="27" y="168.7">175</text>
<text class="y" x="27" y="192.9">150</text>
<text class="y" x="27" y="216.8">125</text>
<text class="y" x="27" y="240.6">100</text>
<text class="x" x="163.5" y="234.8">2.00</text>
<text class="x" x="232.9" y="234.8">3.00</text>
<text class="x" x="302.2" y="234.8">4.00</text>
<text class="x" x="371.5" y="234.8">5.00</text>
<text class="x" x="440.8" y="234.8">6.00</text>
<text class="x" x="510.1" y="234.8">7.00</text>
<text class="x" x="579.5" y="234.8">8.00</text>
<text class="x" x="648.8" y="234.8">9.00</text>
<text class="x" x="718.1" y="234.8">10.00</text>
<text class="x" x="787.4" y="234.8">11.00</text>
<text class="x" x="856.7" y="234.8">12.00</text>
<text class="x" x="926.1" y="234.8">13.00</text>
<text class="x" x="995.4" y="234.8">14.00</text>
<rect x="907" y="208.6" width="79.2" height="16.6" fill="#ffffee" fill-opacity="0.72"/>
<text class="a" x="981.6" y="221.9"><tspan class="j">平均：</tspan>134 bpm</text>
</g>
<g>
<circle cx="14.2" cy="273.8" r="5" fill="#4169e1"/>
<text class="t" x="23.2" y="278">歩幅</text>
<g fill="#111" stroke="#111" stroke-width="1.9"><path stroke="none" d="M998.3 268.4h5.2v5.2z"/><path d="M1001.5 270.4l-2.6 2.6"/><path stroke="none" d="M992.5 274.2v5.2h5.2z"/><path d="M994.5 277.4l2.6 -2.6"/></g>
<path class="g" d="M25.5 296.7H1001.7"/>
<path class="g" d="M25.5 321H1001.7"/>
<path class="g" d="M25.5 345H1001.7"/>
<path class="g" d="M25.5 369.3H1001.7"/>
<path class="p" stroke="#4169e1" d="M26.5 346h0M27.8 347.1h0M28.8 347.6h0M29.8 347.4h0M31.3 348.6h0M32.1 347.3h0M33.3 347.5h0M34.7 348.6h0M35.5 348.4h0M36.9 348.2h0M38.2 347.7h0M39 346.3h0M40.5 347.4h0M47.2 345.1h0M48.6 346.1h0M49.5 346.2h0M50.6 347.4h0M51.8 347.4h0M52.9 346.1h0M54 346.3h0M55.2 346.3h0M56.7 344.9h0M57.8 345.1h0M59 346.3h0M59.9 344.8h0M61.3 344.6h0M62.3 345.8h0M63.3 344.8h0M64.5 345.1h0M65.6 344.3h0M66.7 343.6h0M68 344.7h0M69.3 343.5h0M70.3 343.3h0M71.4 342.1h0M72.5 342.6h0M73.7 340.8h0M75.1 340.6h0M76.2 340h0M77.4 339.7h0M78.2 341h0M79.4 340.7h0M80.5 340.4h0M82 340.8h0M83.1 342.2h0M84 340.6h0M85.1 342.3h0M86.3 341.9h0M87.4 342.4h0M88.6 342.1h0M89.7 340.8h0M91 342.1h0M92.1 340.8h0M93.2 342.1h0M94.3 341.4h0M95.7 340.6h0M96.6 341.7h0M97.7 340.7h0M99 341.9h0M100.1 341.4h0M101.4 342.3h0M102.5 342.8h0M103.5 341.7h0M104.8 342.5h0M105.8 342.4h0M107 342.4h0M108.4 342.3h0M109.2 341.6h0M110.5 342.3h0M111.6 342.3h0M113 341h0M113.9 341.4h0M115.2 341.5h0M116.3 340.9h0M117.5 341.8h0M118.7 341.2h0M119.9 342.6h0M121 341.6h0M122.2 341.6h0M123.3 340.9h0M124.3 342.6h0M125.5 341.6h0M126.5 341.6h0M127.7 342.3h0M128.8 340.8h0M130.2 340.8h0M131.1 340.5h0M132.3 341.8h0M133.6 340.6h0M134.7 341.7h0M135.7 342h0M137.1 342.4h0M138 340.8h0M139.3 341.8h0M140.3 341.5h0M141.5 341.9h0M142.9 342.5h0M143.9 341.9h0M144.9 343.3h0M146.4 343.2h0M147.3 342.2h0M148.5 342.9h0M149.8 341.9h0M150.7 342.4h0M151.9 341.3h0M153.3 341.6h0M154.4 342.2h0M155.5 342.1h0M156.6 340.8h0M157.9 342.6h0M158.8 341.4h0M159.9 342.3h0M161 342.2h0M162.3 342.1h0M163.3 341.4h0M164.7 343.3h0M165.8 343.3h0M167.1 343.3h0M167.9 343.7h0M169.1 343.6h0M170.3 343.8h0M171.7 343.4h0M172.6 343.5h0M173.8 343.2h0M174.9 343.9h0M176.2 342.5h0M177.3 342.1h0M178.4 343.5h0M179.5 342.1h0M180.6 342.5h0M181.7 341.6h0M183 341.8h0M184 341.7h0M185.3 341.2h0M186.5 342.7h0M187.7 342.3h0M188.8 341.7h0M189.9 342.2h0M191 342.4h0M192.1 341.7h0M193.4 341.4h0M194.5 341.6h0M195.6 341h0M196.7 342.7h0M197.9 342.3h0M199.3 342h0M200.4 342.1h0M201.2 341.7h0M202.5 343h0M203.7 341.3h0M204.9 341.9h0M205.9 341.2h0M207.2 342.8h0M208.2 341.2h0M209.5 341.5h0M210.7 342.1h0M211.8 342.8h0M213 342.8h0M214 343.1h0M215.3 343.3h0M216.2 343.2h0M217.3 342.9h0M218.7 342.4h0M220 341.5h0M220.9 341.7h0M222.2 342.2h0M223.2 341.9h0M224.4 341.7h0M225.5 342.2h0M226.7 341.7h0M227.8 341.7h0M229.1 342.5h0M230.1 342h0M231.2 341.8h0M232.5 342.1h0M233.4 343h0M234.7 343.2h0M236 342.7h0M236.9 342.1h0M238.4 340.2h0M239.2 338.6h0M240.5 339h0M241.8 339.2h0M243 338.1h0M244 337.8h0M245.1 337.8h0M246.3 336.9h0M247.6 336.7h0M248.6 337h0M249.6 335.8h0M250.9 336.1h0M252.2 336.9h0M253.1 338.1h0M254.3 337.6h0M255.4 339.2h0M256.7 339h0M257.7 338.7h0M259 340.5h0M259.9 339.8h0M261.3 340.6h0M262.5 340.5h0M263.5 340.7h0M264.6 339.3h0M265.8 340h0M266.8 339.4h0M268.1 340.2h0M269.4 339.7h0M270.2 340.3h0M271.7 339.9h0M272.8 339.7h0M273.8 339.2h0M275 340.9h0M276 340.6h0M277.3 340.4h0M278.5 340.6h0M279.8 342.6h0M280.7 342.8h0M281.8 341.3h0M282.9 342h0M284.1 340.1h0M285.5 340.5h0M286.6 340.6h0M287.5 339.4h0M288.7 340.6h0M289.9 340.4h0M291 339.4h0M292.4 339.2h0M293.3 340.2h0M294.5 339.9h0M295.9 339.2h0M297 340.2h0M298 340h0M299 339.7h0M300.4 341.1h0M301.6 340.5h0M302.5 341.9h0M303.9 341.9h0M305.1 342h0M306 341.3h0M307.1 342h0M308.5 341h0M309.6 341.1h0M310.5 340.4h0M311.7 340.4h0M312.9 341.3h0M313.9 340.3h0M315.2 339.9h0M316.2 339.1h0M317.7 338h0M318.6 337.9h0M319.8 337h0M320.8 336.5h0M322.1 338.2h0M323.4 338.1h0M324.4 338.8h0M325.5 340.9h0M326.9 340.6h0M327.8 341.7h0M329.1 341.3h0M330.4 341.8h0M331.5 341.7h0M332.4 342.5h0M333.5 342.6h0M334.7 343.4h0M336 343.5h0M337 342.3h0M338.1 342.5h0M339.2 342.8h0M340.6 342.2h0M341.8 342.1h0M342.9 342.7h0M343.9 343.4h0M345 343.3h0M346.4 342.9h0M347.5 343.2h0M348.6 342.8h0M349.8 343.3h0M350.7 343.1h0M351.9 343h0M353.3 342.5h0M354.3 342.7h0M355.6 343.7h0M356.8 343.4h0M357.7 341.7h0M359 341.3h0M360 342.3h0M361.3 342h0M362.3 342.6h0M363.5 343h0M364.6 342.7h0M366 341.8h0M367.1 343.1h0M368 341.8h0M369.2 342.1h0M370.4 342.4h0M371.5 341.7h0M372.6 342.6h0M373.9 342.8h0M375 342.4h0M376.3 341.1h0M377.2 340.1h0M378.6 340.6h0M379.5 339.6h0M380.8 340.7h0M381.8 339.1h0M383.2 339.3h0M384.4 339.4h0M385.2 340.3h0M386.5 339.7h0M387.8 339.4h0M388.7 338h0M390 338.7h0M391.2 338.2h0M392.4 337.6h0M393.4 338h0M394.7 337.5h0M395.8 338.5h0M396.8 339.8h0M397.9 339.7h0M399.3 339.8h0M400.4 339h0M401.6 340.4h0M402.5 339.6h0M403.7 338.7h0M404.8 339.3h0M406 339.2h0M407.3 340h0M408.3 339.1h0M409.5 339.7h0M410.6 340.7h0M412 339.8h0M413 339.8h0M414.3 340.5h0M415.4 341.1h0M416.5 340.4h0M417.6 341.2h0M418.9 341.5h0M419.8 340.3h0M420.9 340.7h0M422.1 340.2h0M423.4 340.4h0M424.3 340.9h0M425.6 340.7h0M426.7 340.7h0M427.8 340.2h0M429.2 341.9h0M430.3 340.2h0M431.4 341.6h0M432.5 339.7h0M433.6 340.1h0M434.7 340.1h0M436.1 341.1h0M437.3 341h0M438.2 341.4h0M439.3 340.9h0M440.7 340.7h0M441.7 342.4h0M443 341.4h0M444.2 342.1h0M445.3 340.4h0M446.4 341.5h0M447.4 340.4h0M448.6 341.3h0M449.8 340.3h0M451.1 340.2h0M451.9 339.8h0M453.3 340.3h0M454.5 340.7h0M455.7 340.6h0M456.7 339.4h0M457.8 338.4h0M458.8 338.8h0M460 338.6h0M461.5 338h0M462.3 337.9h0M463.5 339.2h0M464.6 340.3h0M466 341h0M467 341.4h0M468.3 341h0M469.3 341.8h0M470.5 341.8h0M471.8 342.6h0M472.7 343.2h0M473.9 342h0M475 342.3h0M476.1 341.5h0M477.4 342h0M478.7 343.5h0M479.9 343.6h0M480.9 343.5h0M481.8 342.6h0M483.2 341.8h0M484.3 340.7h0M485.4 342.3h0M486.5 342.1h0M487.9 341.8h0M488.8 341.4h0M490 342.8h0M491.3 341.6h0M492.4 342.1h0M493.5 342.1h0M494.6 342.3h0M495.7 341.4h0M497 342.9h0M498.2 341.3h0M499.1 341.6h0M500.3 342.1h0M501.6 342h0M502.7 341.5h0M503.9 341.3h0M504.8 342.2h0M506 341.9h0M507.4 342h0M508.5 342.3h0M509.4 342.8h0M510.8 343.2h0M512 341.4h0M512.9 341.7h0M514.2 341.4h0M515.2 339.6h0M516.3 338.1h0M517.6 336.3h0M518.8 335.5h0M519.9 335.5h0M521.1 336.4h0M522.3 336.6h0M523.4 336.6h0M524.7 336.6h0M525.8 335.2h0M527 335.5h0M528.1 336.1h0M529.1 335.1h0M530.5 336.3h0M531.3 336.6h0M532.4 336.6h0M533.9 336.8h0M535.1 336.2h0M536 337.1h0M537.2 335.9h0M538.4 336.9h0M539.3 335.3h0M540.8 335.1h0M541.8 335.1h0M543 335.1h0M544 335.1h0M545.3 335.9h0M546.5 335.4h0M547.4 336.1h0M548.6 335.6h0M550 336.4h0M550.8 337.6h0M552.3 337h0M553.3 338.6h0M554.3 339.2h0M555.6 340.8h0M556.8 340.5h0M557.8 337.8h0M559.2 337.2h0M560 337.1h0M561.3 336.2h0M562.5 336.7h0M563.6 336.4h0M564.8 335.6h0M565.8 336.4h0M567.3 336.8h0M568.1 336.3h0M569.3 337.7h0M570.6 337.1h0M571.7 337.2h0M573 337.8h0M573.8 338.8h0M575.3 338h0M576.4 338.1h0M577.5 337h0M578.5 335.8h0M579.9 335.7h0M581 336.3h0M582.6 343.6h0M583.7 344.2h0M584.7 343.8h0M585.9 343.5h0M587 342.5h0M588.4 342.8h0M589.3 343h0M590.4 342.5h0M591.6 342.5h0M593 341.8h0M594 342.5h0M595.1 342.6h0M596.1 341.7h0M597.4 341.9h0M598.6 342.6h0M599.7 342.9h0M600.9 342.9h0M601.9 341.4h0M603.4 342.5h0M604.5 342.2h0M605.6 342.5h0M606.6 342h0M607.7 343.8h0M608.8 342.8h0M610 342.9h0M611.1 344.2h0M612.3 343.7h0M613.7 343.7h0M614.6 343.4h0M616 343.2h0M616.8 342.5h0M618.3 342.6h0M619.2 342h0M620.5 342h0M621.7 343.6h0M622.6 343.9h0M624 343h0M625 343.8h0M626.1 343.7h0M627.3 342.4h0M628.6 342.3h0M629.6 342.7h0M630.7 343.1h0M631.8 342.7h0M633.1 343.5h0M634.1 343.5h0M635.5 342.7h0M636.4 342h0M637.6 341.6h0M638.7 342.6h0M640 342.6h0M641.2 342h0M642.4 341.9h0M643.4 341.8h0M644.5 342h0M645.9 341.8h0M646.8 341.7h0M648.2 341.5h0M649.1 340.9h0M650.5 340.9h0M651.3 339.6h0M652.7 339.6h0M653.7 339.6h0M654.8 339.5h0M655.9 338.9h0M657.1 337.4h0M658.4 337.3h0M659.4 338.1h0M660.6 338.6h0M661.7 336.6h0M663.2 337.3h0M664 335.7h0M665.2 336.6h0M666.4 337.1h0M667.5 336.5h0M668.7 336.9h0M670.1 336.2h0M671.1 335h0M672.3 334.2h0M673.5 334.8h0M674.5 334.2h0M675.8 334.8h0M676.9 335.8h0M677.9 334.5h0M679.1 334.5h0M680.1 334.5h0M681.5 335.5h0M682.7 334.6h0M683.7 334.5h0M685 334.3h0M685.9 335.7h0M687.3 336.1h0M688.2 335.7h0M689.6 336.7h0M690.7 336.7h0M691.7 338.1h0M693.1 338.6h0M694.2 338.4h0M695.3 337.8h0M696.2 337.9h0M697.7 337.1h0M698.5 335.6h0M700 335.1h0M701.1 334.8h0M702.2 335h0M703.1 335.1h0M704.2 336.3h0M705.7 335.8h0M706.9 336.8h0M707.7 337.5h0M709.1 336.3h0M710 337.3h0M711.2 336.9h0M712.3 336.6h0M713.8 335.7h0M714.9 336.2h0M715.9 335.3h0M717 334.6h0M718.3 333.8h0M719.4 331.2h0M720.3 349h0M721.6 346.4h0M722.7 346.2h0M724.1 344h0M725.2 344.4h0M726.1 342.9h0M727.2 342.6h0M728.6 341.8h0M729.7 342.2h0M730.7 342h0M732.1 342.6h0M733.2 342.3h0M734.5 342.5h0M735.5 342.8h0M736.5 341.9h0M737.9 341.9h0M738.9 341.8h0M739.9 341.8h0M741 342.9h0M742.5 342.2h0M743.5 341.5h0M744.5 341.8h0M745.6 341.4h0M747.1 342.7h0M747.9 342.8h0M749.2 342.4h0M750.4 342.2h0M751.7 341.2h0M752.8 340.2h0M753.9 341.5h0M755.2 340.7h0M756.2 340.3h0M757.3 341.6h0M758.4 341.9h0M759.6 341.9h0M760.7 342.6h0M761.9 343h0M763.1 342.7h0M764.4 343.2h0M765.4 343.8h0M766.5 343.4h0M767.5 342.4h0M768.8 343.3h0M770 342.1h0M771 342.5h0M772.4 341.2h0M773.5 341.6h0M774.7 342.2h0M775.5 342.4h0M777 341.8h0M777.8 343h0M779.1 342.1h0M780.2 342.3h0M781.5 343.8h0M782.4 343.3h0M783.9 343.4h0M784.9 344.2h0M786.2 343.9h0M787.1 344.6h0M788.3 344.6h0M789.4 344.5h0M790.6 343.2h0M791.6 341.2h0M793 338.5h0M794 337.3h0M795.2 337.8h0M796.3 336.5h0M797.4 336.8h0M798.8 335.8h0M799.8 334.3h0M801 334.8h0M802 333.4h0M803.2 333h0M804.4 333.3h0M805.7 332.4h0M806.7 333.6h0M807.9 333.5h0M808.9 335.2h0M810.3 335.8h0M811.4 334.3h0M812.3 333.8h0M813.6 334.3h0M814.8 333.6h0M816.1 334.1h0M817.1 332.2h0M818.2 332.8h0M819.4 333.3h0M820.7 332.6h0M821.7 332.8h0M823 333.3h0M824.1 334h0M825 333.9h0M826.3 334.7h0M827.6 335.2h0M828.5 334.4h0M829.9 334.6h0M830.7 334.6h0M832.1 335.6h0M833.3 334h0M834.3 335h0M835.6 333.8h0M836.7 334.8h0M837.9 336.3h0M838.8 336.4h0M840.1 335.7h0M841.4 335h0M842.3 335.4h0M843.5 335.4h0M844.7 336.3h0M845.8 335.6h0M846.9 334.7h0M848.3 336.3h0M849.2 336.7h0M850.3 335.9h0M851.5 336.9h0M852.7 337.1h0M853.8 337.6h0M854.9 338.3h0M856.2 338.9h0M857.3 337.6h0M859 353.1h0M860.1 349h0M861.4 347.7h0M862.5 347h0M863.6 347.3h0M864.9 346.2h0M866.1 345.7h0M867 344.5h0M868 345.2h0M869.2 345.3h0M870.4 344.4h0M871.7 344.7h0M872.8 344.1h0M874 343.6h0M875 342.7h0M876.1 343.4h0M877.3 343.4h0M878.4 341.6h0M879.9 342.6h0M880.9 341.9h0M882.2 341.7h0M883 342.7h0M884.4 341.6h0M885.6 341.7h0M886.5 342.3h0M887.7 342.9h0M888.8 343h0M890 343.8h0M891.1 343.6h0M892.5 343.6h0M893.3 342.8h0M894.7 342.8h0M895.8 342.5h0M896.9 342.2h0M898.1 343.4h0M899.1 343.3h0M900.2 343.6h0M901.7 343.8h0M902.7 343.8h0M903.8 342.5h0M905 343.3h0M906 343.6h0M907.4 342.8h0M908.5 342.9h0M909.5 341.9h0M910.9 342.3h0M911.8 343.4h0M912.9 343.6h0M914.4 343h0M915.5 342.6h0M916.3 343.2h0M917.6 342.6h0M918.9 342.5h0M920.1 342.4h0M920.9 342.6h0M922.1 343.1h0M923.5 343h0M924.5 343.1h0M925.7 342h0M926.9 342.1h0M928 342.1h0M929.1 342.5h0M930.2 343.1h0M931.6 342.2h0M932.7 342.5h0M933.7 343.6h0M934.7 342.2h0M935.9 343.6h0M937.2 342.9h0M938.3 342.2h0M939.5 342.4h0M940.6 343h0M941.8 342.4h0M942.8 342.4h0M944.2 342.5h0M945.4 343h0M946.6 342.1h0M947.7 343h0M948.8 343.1h0M950 342.5h0M950.9 342.3h0M952.1 342.1h0M953.2 343h0M954.3 343.7h0M955.5 343h0M956.9 343h0M957.7 343.2h0M959.1 342.3h0M960 343.7h0M961.4 343.1h0M962.4 343.4h0M963.6 343.5h0M964.6 343.7h0M965.9 343.8h0M966.9 342.8h0M968.3 342.5h0M969.3 343.3h0M970.4 342.7h0M971.6 342.4h0M973 342.7h0M974.1 343.9h0M975.1 343h0M976.5 343.5h0M977.5 343.5h0M978.7 342.4h0M979.9 343.7h0M981 342.2h0M981.9 342.7h0M983.3 343.9h0M984.2 343.5h0M985.7 345.4h0M986.7 345.6h0M987.9 343h0M988.9 342.1h0M990.2 342.4h0M991.2 342.3h0M992.4 342.6h0M993.4 343.1h0M994.8 343.7h0M996 343h0M996.9 343.7h0M998 344.8h0M999.5 343.7h0M1000.5 342.8h0M1001.7 340.8h0M24.6 358.5h0M24.6 360.3h0M24.6 362h0M24.6 363.3h0M24 343.5h0M25.8 343.2h0M24.4 349h0M25.3 346h0M167.5 338.7h0M168 350h0M168 347h0M234 348.7h0M233.5 346h0M303 347.5h0M372 347.5h0M371.5 345h0M443 346h0M443.5 344h0M511 347.5h0M511 345h0M580.5 352.5h0M650 345.7h0M649.5 343.5h0M720 349h0M720 357h0M720 353.5h0M720 329h0M720 331.6h0M858 319h0M986 347.5h0"/>
<path class="d" d="M25 342.5H1001.7"/>
<text class="y" x="27" y="299.2">3.00</text>
<text class="y" x="27" y="323.5">2.00</text>
<text class="y" x="27" y="347.5">1.00</text>
<text class="y" x="27" y="371.8">0.00</text>
<text class="x" x="163.5" y="366">2.00</text>
<text class="x" x="232.9" y="366">3.00</text>
<text class="x" x="302.2" y="366">4.00</text>
<text class="x" x="371.5" y="366">5.00</text>
<text class="x" x="440.8" y="366">6.00</text>
<text class="x" x="510.1" y="366">7.00</text>
<text class="x" x="579.5" y="366">8.00</text>
<text class="x" x="648.8" y="366">9.00</text>
<text class="x" x="718.1" y="366">10.00</text>
<text class="x" x="787.4" y="366">11.00</text>
<text class="x" x="856.7" y="366">12.00</text>
<text class="x" x="926.1" y="366">13.00</text>
<text class="x" x="995.4" y="366">14.00</text>
<rect x="914.5" y="345.3" width="71.7" height="16.6" fill="#ffffee" fill-opacity="0.72"/>
<text class="a" x="981.6" y="358.6"><tspan class="j">平均：</tspan>1.12 m</text>
</g>
<g>
<circle cx="14.2" cy="404.5" r="5" fill="#ed7e00"/>
<text class="t" x="23.2" y="408.7">ピッチ</text>
<circle cx="78.3" cy="404.1" r="5.85" fill="#1a73d4"/><text transform="translate(78.3 407.5) scale(.8 1)" x="0" y="0" font-size="9.2" font-weight="bold" style="fill:#fff" text-anchor="middle">?</text>
<g fill="#111" stroke="#111" stroke-width="1.9"><path stroke="none" d="M998.3 399.1h5.2v5.2z"/><path d="M1001.5 401.1l-2.6 2.6"/><path stroke="none" d="M992.5 404.9v5.2h5.2z"/><path d="M994.5 408.1l2.6 -2.6"/></g>
<path class="g" d="M25.5 427.3H1001.7"/>
<path class="g" d="M25.5 464.7H1001.7"/>
<path class="g" d="M25.5 499.4H1001.7"/>
<path class="p" stroke="#1fa9e6" d="M26.1 444.9h0M27.3 444.7h0M28.1 443.8h0M29.6 443.8h0M30.6 443.2h0M31.9 443.7h0M32.9 442.6h0M33.9 442.5h0M35.2 443.4h0M36.3 443h0M37.4 442.6h0M38.8 442.5h0M39.7 442.7h0M40.9 442.2h0M42.1 443.2h0M43.4 443.3h0M44.5 442.9h0M45.7 443.1h0M46.6 443.5h0M47.8 444.6h0M49.2 444h0M50.3 444.6h0M51.3 443.9h0M52.5 444.2h0M53.5 443.9h0M54.6 443.3h0M55.7 442.6h0M57.2 442h0M58.3 442.2h0M59.3 441.8h0M60.5 441.6h0M61.7 442.5h0M63 442h0M64 442.7h0M65.1 441.8h0M66.4 442.5h0M67.5 442.7h0M68.5 442.7h0M69.8 441.8h0M70.8 441.9h0M72.2 441.2h0M73.3 440.8h0M74.3 441.5h0M75.6 441.1h0M76.7 441.5h0M77.6 441.3h0M78.8 440.7h0M80.2 441.3h0M81.2 440.4h0M82.2 441h0M83.6 440.8h0M84.6 441.2h0M85.7 441.3h0M86.9 440.9h0M88.2 441.3h0M89.3 441h0M90.6 440.4h0M91.6 440.8h0M92.6 440.3h0M94 440.6h0M94.9 440.9h0M96.2 440h0M97.2 440.9h0M98.3 440.6h0M99.4 440.1h0M100.7 439.2h0M120.2 440.1h0M124.8 439.8h0M143.4 439.9h0M165.1 441.1h0M166.4 441.7h0M167.4 442.3h0M168.6 441.1h0M169.9 440.5h0M171 439.6h0M171.9 439.5h0M252.6 439.7h0M253.7 441h0M255 440.3h0M255.8 440.4h0M323.7 440h0M325.2 441.2h0M326.3 439.8h0M463 440.5h0M464 441.1h0M465.2 440.4h0M466.4 440.7h0M493 439.9h0M582.2 444.2h0M583 443h0M584.3 441.9h0M585.4 441.9h0M586.6 441.9h0M587.6 441.7h0M588.9 440.6h0M590 441h0M591.1 440.9h0M592.3 440.2h0M593.6 440.5h0M594.6 439.9h0M596 440.4h0M596.8 439.8h0M606.1 439h0M607.5 439.2h0M609.5 440.2h0M648.9 439.2h0M720 446.9h0M721.1 444.5h0M722.3 443.5h0M723.3 442.9h0M724.5 441.9h0M725.8 442.3h0M726.8 441.5h0M727.9 441.5h0M729.4 441.3h0M730.4 440.6h0M731.6 440.9h0M732.7 440.6h0M733.9 439.9h0M734.8 440.5h0M736.1 440.4h0M737.1 439.3h0M738.5 440h0M739.5 439h0M749.9 439.5h0M751.2 439.8h0M752.4 439.9h0M753.2 439.9h0M754.4 439.6h0M764.9 439.2h0M766 440.4h0M767.1 439.8h0M768.4 440h0M769.6 439.9h0M776.2 439.5h0M777.6 440.4h0M778.6 439.4h0M779.8 439.9h0M781.1 439.8h0M782.1 439.8h0M783.3 440.5h0M784.3 439.9h0M785.6 439.8h0M786.6 440.3h0M787.8 439.8h0M859 446.1h0M860 445.2h0M861.1 444.6h0M862.3 443.7h0M863.6 444.2h0M864.7 443.8h0M866 443.5h0M867 442.3h0M868.1 442.7h0M869.3 442.3h0M870.7 441.7h0M871.8 442.1h0M872.8 441.3h0M874.1 441.5h0M875.2 440.9h0M876.4 440.4h0M877.2 439.8h0M880.9 440.7h0M881.9 440.6h0M883.1 440.6h0M884.4 440.2h0M885.4 439.9h0M886.7 439.9h0M887.6 440.9h0M888.9 440.3h0M890.1 440.5h0M891.4 439.8h0M916.6 440.1h0M917.5 440.1h0M918.7 440.5h0M920.1 440.6h0M921.1 439.4h0M930.3 441h0M931.5 441.3h0M932.6 440.7h0M933.9 440.7h0M935.1 440.7h0M935.9 440.5h0M937.1 441.1h0M938.2 441h0M939.6 441.4h0M940.8 441.2h0M941.9 441.5h0M942.8 441.1h0M944.1 440.2h0M945.2 441.2h0M946.2 440.2h0M947.7 439.6h0M948.8 439.5h0M981.9 441.3h0M983.3 441.2h0M984.4 440.9h0M993.5 439.8h0M994.8 440.7h0M995.7 440.2h0M996.8 440.1h0M998.2 441.5h0M999.4 441.4h0M1000.5 442.1h0M1001.4 443.2h0M232.7 442.3h0M233.3 444h0M233.7 441h0M301.8 441h0M302.3 443.7h0M370.8 442h0M371.4 440.6h0M440.8 442.5h0M441.6 441h0M441.2 443.6h0M509.8 441.3h0M510.4 443h0M510.2 439.9h0"/><path class="p" stroke="#c52fc3" d="M102.1 439.7h0M103 438.6h0M104.1 439.5h0M105.3 438.8h0M106.4 438.6h0M107.6 438.9h0M108.7 439.6h0M110.1 438.7h0M111.2 439h0M112.4 439.2h0M113.3 438.7h0M114.5 439.2h0M115.8 439h0M116.8 439.2h0M118.2 438.8h0M119.1 439.2h0M121.3 439.3h0M122.6 439.3h0M123.9 438.7h0M126.1 438.4h0M127.3 439.1h0M128.5 438.6h0M129.4 438.1h0M130.8 438.6h0M131.9 438.6h0M132.9 438.7h0M134.2 438.9h0M135.2 438.1h0M136.3 438.8h0M137.7 438.2h0M138.7 438.7h0M140 439h0M140.9 438.4h0M142.1 438.5h0M144.5 439.2h0M145.6 438.8h0M146.9 438.6h0M148 439.2h0M149.1 438.4h0M150.2 439.1h0M151.5 439.3h0M152.6 439.2h0M153.8 439.1h0M154.9 438.5h0M156 439.2h0M156.9 438.6h0M158.4 438.9h0M159.3 438.5h0M160.4 438.4h0M161.9 439h0M162.8 439.3h0M163.8 439.2h0M173.1 438.6h0M174.4 438.1h0M175.6 437.7h0M176.8 437.6h0M177.8 438.1h0M179.1 437.1h0M180.1 436.9h0M181.1 437.4h0M182.5 437.7h0M183.5 437.6h0M184.7 437.5h0M186 437.2h0M187.1 438.1h0M188.1 438.1h0M189.1 438.1h0M190.3 437.5h0M191.7 437.4h0M192.7 437.7h0M193.8 437.2h0M195 437.3h0M196.3 437h0M197.3 437.4h0M198.6 437h0M199.6 436.9h0M200.9 437.3h0M202 437.7h0M203.3 437.5h0M204.3 437.1h0M205.3 436.3h0M206.7 436.4h0M207.8 437.3h0M208.8 436.9h0M210.1 436.9h0M211.1 437.8h0M212.2 436.6h0M213.6 436.9h0M214.6 437.4h0M215.6 436.5h0M217 436.6h0M218.2 437h0M219.3 437.5h0M220.5 437h0M221.3 436.6h0M222.7 437.2h0M223.7 436.9h0M225.1 436.7h0M226.3 437.6h0M227.2 438h0M228.4 437.7h0M229.7 437.9h0M230.5 437.2h0M231.9 437.4h0M232.8 437.6h0M234.3 438h0M235.1 437.4h0M236.5 437.6h0M237.5 436.4h0M238.9 436.7h0M240 436.3h0M240.9 435.6h0M242.2 436.2h0M243.4 435.1h0M244.4 435.3h0M245.7 435.9h0M246.9 436.2h0M247.8 436.1h0M248.9 436.6h0M250.2 437h0M251.5 438.4h0M257.3 437.7h0M258.3 437.5h0M259.6 437.9h0M260.7 437.7h0M261.6 436.9h0M263 438.1h0M263.9 436.9h0M265.4 437.2h0M266.4 437.2h0M267.6 438h0M268.6 438h0M269.6 437.1h0M270.8 437.8h0M272.2 438h0M273.4 437.1h0M274.4 437h0M275.7 436.9h0M276.9 437.8h0M278 436.7h0M279.1 437.4h0M280.2 437.3h0M281.4 437.4h0M282.3 436.7h0M283.5 437.2h0M284.6 437h0M285.7 437.4h0M287.2 437.5h0M288 437h0M289.2 437.2h0M290.3 436.9h0M291.7 437.6h0M292.6 436.9h0M294.1 437.4h0M294.9 437.6h0M296.2 437.1h0M297.3 437.7h0M298.7 437.5h0M299.5 437.8h0M300.7 437.1h0M302 437.9h0M303.1 437.8h0M304.3 437.4h0M305.6 437.4h0M306.7 437.1h0M307.9 436.9h0M308.7 436.2h0M310.2 435.7h0M311.4 435.4h0M312.5 435h0M313.6 435.3h0M314.6 435h0M315.7 435.2h0M316.9 434.9h0M318.2 436h0M319.4 436h0M320.6 436.2h0M321.5 437h0M322.7 438.8h0M327.5 438.8h0M328.5 438.6h0M329.7 437.6h0M330.8 437.7h0M331.9 437.7h0M332.9 438.4h0M334.3 437.8h0M335.5 437.8h0M336.7 437.6h0M337.8 437.8h0M338.7 437.1h0M340.1 437.2h0M341 436.9h0M342.4 437.7h0M343.4 437h0M344.6 437.6h0M345.8 437.7h0M346.8 437.1h0M348.1 436.8h0M349.1 437h0M350.4 437.9h0M351.5 437.4h0M352.7 437.5h0M353.6 437.1h0M354.7 436.9h0M355.9 437.3h0M357.2 437h0M358.4 438h0M359.6 437.2h0M360.5 437.1h0M361.8 437.3h0M362.9 437.8h0M363.9 437.9h0M365.2 438.2h0M366.2 438.1h0M367.4 438.1h0M368.8 438.1h0M369.8 437.9h0M370.9 437.1h0M372 438.1h0M373.3 437.7h0M374.3 437.3h0M375.4 436.2h0M376.7 436.9h0M377.9 436.2h0M378.9 435.4h0M380.3 434.9h0M381.5 435h0M382.6 435.2h0M383.8 434.9h0M384.7 435h0M385.8 435.4h0M387.2 435.2h0M388.2 435.4h0M389.3 436.7h0M390.4 436.8h0M391.6 437.7h0M392.8 438.1h0M393.8 438.4h0M395.3 438.1h0M396.1 437.6h0M397.3 437.8h0M398.7 437.8h0M399.6 437.3h0M400.8 437.7h0M402 437.4h0M403 437.2h0M404.3 437.5h0M405.5 438.2h0M406.5 437.1h0M407.8 437.9h0M409.1 438h0M409.9 437.9h0M411.3 438h0M412.3 437.1h0M413.4 437.9h0M414.6 436.9h0M415.8 437.9h0M416.8 437.6h0M418.1 437.3h0M419.4 437h0M420.3 437.1h0M421.6 437.9h0M422.6 437h0M423.9 437.6h0M425 436.8h0M426.2 437.7h0M427.3 437.1h0M428.6 437.6h0M429.8 437.1h0M430.9 438h0M431.9 437.9h0M433 438h0M434.3 437.2h0M435.2 438h0M436.4 437.2h0M437.6 437.4h0M438.9 437.2h0M440.2 437.7h0M441.2 437.6h0M442.5 437.2h0M443.4 437.3h0M444.8 437h0M445.9 436.7h0M446.8 436.8h0M447.9 437h0M449.2 437.1h0M450.5 436.2h0M451.5 436.2h0M452.7 436.2h0M453.7 435.8h0M455.1 435.9h0M456.1 435.7h0M457.2 436.1h0M458.5 436.5h0M459.4 436h0M460.9 436.6h0M461.7 437.5h0M467.8 439.2h0M468.9 438.6h0M469.8 438.9h0M471 438.8h0M472.4 437.8h0M473.2 437.8h0M474.4 438h0M475.8 438.9h0M476.8 438.2h0M478.1 438.7h0M479.1 438.5h0M480.1 437.8h0M481.4 438.5h0M482.7 438.6h0M483.6 438.8h0M485 437.7h0M485.9 438.3h0M487.1 438.5h0M488.2 437.9h0M489.5 438.2h0M490.7 437.8h0M491.7 438.6h0M494 437.9h0M495.3 438.7h0M496.2 438.6h0M497.6 438.9h0M498.6 438h0M499.7 438.9h0M501.1 438.2h0M502 438.8h0M503.2 438.6h0M504.5 438.5h0M505.4 437.9h0M506.6 438h0M507.7 437.7h0M509 438.2h0M510.2 437.9h0M511.3 439h0M512.5 438.2h0M513.5 438h0M514.6 437.4h0M515.8 436.8h0M517.2 434.4h0M518.3 436.4h0M519.4 436.4h0M520.7 436.5h0M521.8 435.9h0M522.7 436h0M524 436.6h0M525.3 436.6h0M526.1 436.2h0M527.4 435.5h0M528.5 436.3h0M529.5 435.5h0M530.9 435.6h0M531.9 435.3h0M533.2 435.6h0M534.1 436.5h0M535.6 435.4h0M536.5 436.4h0M537.8 435.6h0M538.9 435.5h0M540 435.7h0M541 435.1h0M542.2 435.2h0M543.6 435.7h0M544.8 435.2h0M545.7 435.7h0M546.8 435.4h0M548.1 435.9h0M549.1 434.8h0M550.4 435.5h0M551.4 435.5h0M552.8 435.6h0M553.9 434.7h0M555.1 434.8h0M556.3 435.5h0M557.1 434.8h0M558.5 435.2h0M559.5 434.6h0M560.6 435.1h0M561.8 435.1h0M563 434.6h0M564.3 434.9h0M565.4 434.2h0M566.4 434.2h0M567.7 434.8h0M569 435.1h0M569.9 434.8h0M571 435.3h0M572.1 434.7h0M573.5 435.4h0M574.7 435.1h0M575.6 434.8h0M576.9 433.9h0M578 433.3h0M579 434.3h0M580.2 436h0M598.2 438.7h0M599.1 438.5h0M600.6 439.9h0M601.5 438.9h0M602.6 438.9h0M604 438.2h0M605 439h0M608.4 438.6h0M610.6 438.1h0M611.9 438.2h0M612.9 439h0M614.3 438.2h0M615.3 438.5h0M616.4 438.1h0M617.5 439.1h0M618.9 438.2h0M620.1 439h0M621.3 438.5h0M622.2 438.6h0M623.5 438.5h0M624.4 438.8h0M625.9 438.1h0M627 438h0M627.9 438.3h0M629.1 438.2h0M630.2 439.1h0M631.4 438.9h0M632.7 438.1h0M633.6 438.3h0M635 438.4h0M636.1 438.9h0M637.3 437.9h0M638.5 438.6h0M639.4 439h0M640.8 438.9h0M641.7 438.1h0M642.9 438.2h0M643.9 438.2h0M645.4 438h0M646.5 438.3h0M647.7 438.9h0M650 439.3h0M651.1 438.4h0M652.1 437.8h0M653.3 437.4h0M654.3 437.3h0M655.5 436.6h0M656.7 436.6h0M658 436.2h0M658.9 435.8h0M660.3 435.6h0M661.4 435.7h0M662.6 435.3h0M663.6 436.4h0M664.9 436.7h0M666.1 436.8h0M667 435.4h0M668.1 435h0M669.2 434.6h0M670.4 434.9h0M671.5 434h0M672.7 434.8h0M674 434.5h0M675.3 434.9h0M676.4 434.3h0M677.4 435h0M678.7 435h0M679.9 434.3h0M680.7 434.6h0M682.2 434.6h0M683.2 434.5h0M684.5 434.3h0M685.4 434.6h0M686.6 434.2h0M687.9 434.9h0M689.1 433.9h0M690.1 433.7h0M691.3 434.2h0M692.2 434.2h0M693.7 434.3h0M694.6 434.6h0M695.9 433.9h0M696.9 434.6h0M698.3 434.7h0M699.3 434.1h0M700.6 434.4h0M701.5 433.8h0M702.8 433.9h0M703.9 433.7h0M705.1 434h0M706.4 433.5h0M707.4 434.5h0M708.4 434.2h0M709.7 434.3h0M710.9 434h0M712.1 433.5h0M712.9 433.2h0M714.4 433.4h0M715.6 433.8h0M716.7 433.5h0M717.6 433.8h0M719 434.2h0M740.9 439.4h0M742 438.6h0M742.9 438.5h0M744.1 438.4h0M745.2 438.9h0M746.3 438.3h0M747.5 438.2h0M748.8 438.9h0M755.5 438.4h0M757 439h0M757.9 438.7h0M759 438.7h0M760.2 439h0M761.5 438.3h0M762.4 438.8h0M763.8 439.1h0M770.5 438.4h0M771.9 439.2h0M773 438.9h0M774.2 438.6h0M775.2 439.1h0M789.2 438.3h0M790.1 435.8h0M791.4 435.5h0M792.5 435.2h0M793.5 435h0M794.9 435h0M795.8 435h0M797 434.9h0M798.3 435.7h0M799.5 435.8h0M800.7 435.4h0M801.8 434.9h0M802.7 435.3h0M804.1 435.8h0M804.9 435.4h0M806.4 436h0M807.6 435.7h0M808.4 435.1h0M809.5 435.2h0M810.9 435.9h0M811.9 435.2h0M813.2 435.2h0M814.5 435.7h0M815.6 435.3h0M816.6 435.2h0M817.6 434.7h0M819.1 435.2h0M819.9 434.4h0M821.1 433.8h0M822.4 434h0M823.5 433.7h0M824.5 434.5h0M825.9 434.2h0M826.9 434.4h0M828.1 434.7h0M829.2 434.1h0M830.5 434.8h0M831.6 434.8h0M832.6 433.8h0M833.9 434h0M835.1 433.6h0M836.2 434.5h0M837.4 433.5h0M838.5 433.9h0M839.7 434.1h0M840.9 433.9h0M842.1 434.5h0M843 434.1h0M844.1 433.8h0M845.5 434.4h0M846.6 434.2h0M847.7 434.4h0M848.9 433.6h0M850 433.5h0M851.2 433.5h0M852.2 433.9h0M853.2 434.5h0M854.7 434.6h0M855.8 433.8h0M857 434.3h0M878.4 439.4h0M879.5 439.1h0M892.2 439h0M893.3 438.9h0M894.7 438.1h0M895.7 438.2h0M896.9 438.9h0M898 438.7h0M899.1 438.8h0M900.4 438.8h0M901.7 438.9h0M902.7 438.5h0M903.8 438.7h0M905.2 437.8h0M906.2 438.7h0M907.2 438.6h0M908.6 438.3h0M909.8 438.9h0M910.8 437.9h0M911.9 438.4h0M912.9 438h0M914.2 438.4h0M915.3 438.7h0M922.2 439.4h0M923.3 438.9h0M924.4 438.3h0M925.6 438.5h0M926.9 439.1h0M928.1 439.5h0M929.3 439.1h0M949.7 438.7h0M951.1 438.5h0M952.3 438h0M953.5 438.2h0M954.4 438.5h0M955.6 439h0M956.6 438.6h0M958.1 438.7h0M959.1 437.9h0M960.1 438h0M961.4 438.1h0M962.7 438.8h0M963.7 438.9h0M964.7 438.5h0M966 438.6h0M967.3 438.1h0M968.1 438h0M969.3 437.9h0M970.7 438.4h0M971.7 437.9h0M972.9 438.4h0M974 438.2h0M975 437.7h0M976.2 438.2h0M977.3 438.6h0M978.5 438.7h0M979.7 437.8h0M980.8 439.2h0M985.5 439.7h0M986.5 438.1h0M987.7 438h0M989 438h0M990 438.4h0M991.4 438.5h0M992.3 438.8h0"/><path class="p" stroke="#56ad1c" d="M25 450h0M25 452h0M25 454h0M167.5 448.7h0M580.7 450.2h0M720 448.5h0M720 451.6h0M720 454h0M858 451.6h0"/><path class="p" stroke="#ee8a1e" d="M25 457h0M580.7 457.5h0M720 457.3h0M720 459.5h0"/><path class="p" stroke="#f01a4a" d="M25 470h0M25 491h0M858 470.6h0M858 482.3h0M858 485.5h0"/>
<path class="d" d="M25 439.3H1001.7"/>
<text class="y" x="27" y="429.8">200</text>
<text class="y" x="27" y="467.2">150</text>
<text class="y" x="27" y="501.9">100</text>
<text class="x" x="163.5" y="496.1">2.00</text>
<text class="x" x="232.9" y="496.1">3.00</text>
<text class="x" x="302.2" y="496.1">4.00</text>
<text class="x" x="371.5" y="496.1">5.00</text>
<text class="x" x="440.8" y="496.1">6.00</text>
<text class="x" x="510.1" y="496.1">7.00</text>
<text class="x" x="579.5" y="496.1">8.00</text>
<text class="x" x="648.8" y="496.1">9.00</text>
<text class="x" x="718.1" y="496.1">10.00</text>
<text class="x" x="787.4" y="496.1">11.00</text>
<text class="x" x="856.7" y="496.1">12.00</text>
<text class="x" x="926.1" y="496.1">13.00</text>
<text class="x" x="995.4" y="496.1">14.00</text>
<rect x="907" y="442.1" width="79.2" height="16.6" fill="#ffffee" fill-opacity="0.72"/>
<text class="a" x="981.6" y="455.4"><tspan class="j">平均：</tspan>185 spm</text>
</g>
<g>
<circle cx="14.2" cy="535.2" r="5" fill="#c529c4"/>
<text class="t" x="26.6" y="539.4">上下動比</text>
<path d="M80.5 533.7h6.6l-3.3 5.8z" fill="#111"/>
<circle cx="99.8" cy="534.8" r="5.85" fill="#1a73d4"/><text transform="translate(99.8 538.2) scale(.8 1)" x="0" y="0" font-size="9.2" font-weight="bold" style="fill:#fff" text-anchor="middle">?</text>
<g fill="#111" stroke="#111" stroke-width="1.9"><path stroke="none" d="M998.3 529.8h5.2v5.2z"/><path d="M1001.5 531.8l-2.6 2.6"/><path stroke="none" d="M992.5 535.6v5.2h5.2z"/><path d="M994.5 538.8l2.6 -2.6"/></g>
<path class="g" d="M25.5 558.2H1001.7"/>
<path class="g" d="M25.5 595.3H1001.7"/>
<path class="g" d="M25.5 630.5H1001.7"/>
<path class="p" stroke="#c52fc3" d="M131.6 584.8h0M133.3 585.7h0M134.7 586h0M136 585.1h0M137.6 584.7h0M189.6 585.5h0M190.9 586.4h0M192.7 585.5h0M202.7 585.9h0M204 586.9h0M205.6 586h0M207.2 585.7h0M209.9 585.2h0M211.4 585.7h0M212.7 585.1h0M218.8 585.7h0M220.1 585.7h0M221.5 586.9h0M240.3 587.4h0M241.7 588h0M243.2 588.3h0M244.6 589h0M246.2 589.2h0M247.6 588.8h0M249.1 590.2h0M250.7 589.9h0M251.9 588.9h0M253.6 587.8h0M255 587.2h0M256.3 587.3h0M257.9 589h0M259.1 589h0M260.5 589.1h0M262.3 589.6h0M263.5 589.1h0M264.9 589.2h0M266.5 589h0M268.1 587.3h0M269.5 587.9h0M270.9 587.7h0M272.2 586.4h0M273.7 586.6h0M275.1 585.9h0M276.5 585.7h0M285.3 588.1h0M286.9 588.5h0M288.1 588.3h0M289.9 587.2h0M291.2 588.2h0M292.5 589h0M294 588.9h0M295.5 588.5h0M297.1 586.9h0M298.5 584.5h0M307.2 584.6h0M308.7 588.1h0M309.9 587.6h0M311.5 587.9h0M312.9 588.8h0M314.2 588.8h0M315.8 589.8h0M317.4 588.9h0M318.8 588.1h0M320.3 588.2h0M321.5 587.2h0M323 587.7h0M324.5 585.3h0M327.5 584.6h0M329 585.3h0M330.3 585.3h0M337.6 585.4h0M338.9 586.7h0M340.4 585.2h0M341.8 586h0M344.7 586h0M346.3 586.1h0M347.7 585.6h0M376.8 586.2h0M378 587.5h0M379.4 586.9h0M380.9 587.4h0M382.6 588.5h0M383.8 589.4h0M385.5 587.9h0M387 588.8h0M388.2 589h0M389.9 588.6h0M391.2 589.4h0M392.8 589.2h0M394.1 589.8h0M395.5 588.4h0M397 589.6h0M398.5 588.9h0M399.9 588.3h0M401.4 587.6h0M402.6 588.6h0M404.4 587.6h0M405.5 588.6h0M407.2 587.8h0M408.6 588.1h0M410 586.5h0M411.6 587.4h0M415.8 585.9h0M417.3 586.9h0M418.6 587.3h0M420.1 588.2h0M421.6 588.7h0M423.2 588.4h0M424.6 587.7h0M426.2 587.5h0M427.5 587.3h0M428.8 587.8h0M430.4 587.7h0M431.6 587.3h0M433.2 587.1h0M434.7 585.8h0M444.7 586.8h0M446.4 587.4h0M447.6 587.2h0M449.2 587.8h0M450.8 588.7h0M452.1 587.5h0M453.4 588.2h0M455.2 588.6h0M456.5 588.7h0M457.7 589.9h0M459.2 590.6h0M460.9 589.2h0M462.2 587.8h0M463.7 586.6h0M482.5 585.6h0M483.9 588h0M485.4 585.4h0M494.2 586h0M495.6 585.8h0M502.7 585.8h0M504.4 586.9h0M505.8 586.6h0M514.4 584.7h0M516 587.2h0M517.2 587.5h0M518.8 590.7h0M520.2 590.9h0M521.8 591.7h0M523.1 591.9h0M524.6 592.1h0M526.2 592h0M527.6 594.4h0M528.9 595.3h0M530.3 595.4h0M531.9 594.2h0M533.4 593.6h0M534.7 592.2h0M536.2 591.1h0M537.6 590.8h0M539.2 592.3h0M540.6 592.8h0M541.9 591.8h0M543.3 592.8h0M544.7 592.7h0M546.4 592.2h0M547.9 592.2h0M549.4 592.3h0M550.6 591.6h0M552 590.5h0M553.6 589.1h0M555.2 586.6h0M556.3 588.1h0M557.8 589.9h0M559.2 589.2h0M560.9 589.7h0M562.3 591.3h0M563.7 591.2h0M565.1 593.1h0M566.8 593.2h0M568.2 591h0M569.6 590.3h0M571.1 591.1h0M572.6 589.9h0M573.9 588.4h0M575.3 589.9h0M576.9 591.2h0M578.4 590.9h0M579.7 589.2h0M622 587.6h0M645.4 585.9h0M647 585.7h0M648.4 586.6h0M652.6 587.9h0M654.1 588h0M655.5 589.8h0M657 589.8h0M658.2 589.9h0M659.9 588.9h0M661.5 589.4h0M662.7 589.2h0M664.2 589.3h0M665.8 590h0M667 590.2h0M668.4 592.9h0M669.8 593.1h0M671.6 593.1h0M672.9 592.7h0M674.4 593.1h0M675.8 594h0M677.3 594h0M678.8 595.5h0M680 595.9h0M681.6 595h0M683.2 594.7h0M684.5 594.4h0M686.1 595.5h0M687.3 592h0M689 591.1h0M690.4 589.1h0M691.8 588.5h0M693 588.9h0M694.5 589h0M696 590.5h0M697.6 593.7h0M699.1 593.3h0M700.3 594h0M702 594.6h0M703.5 593h0M704.7 594.1h0M706.4 591.3h0M707.5 591.3h0M709.3 590.9h0M710.7 590.7h0M712 592h0M713.7 592.4h0M715 591.8h0M716.5 592.4h0M717.8 591.2h0M719.3 587.9h0M745.3 586.4h0M746.7 586.1h0M748 585.2h0M755.3 586.3h0M774.1 585.5h0M791 585.3h0M792.6 586.7h0M793.7 589.1h0M795.2 590.7h0M796.8 590.6h0M798.4 591.6h0M799.8 592.7h0M801 591.4h0M802.6 590.3h0M804 592.6h0M805.5 595.2h0M806.9 593.5h0M808.6 591.4h0M809.9 590.4h0M811.2 590.7h0M812.7 591.5h0M814.4 592.7h0M815.5 593.9h0M817 593.3h0M818.7 594.1h0M819.9 595.2h0M821.4 594.9h0M822.9 594.2h0M824.2 592.8h0M825.9 592.5h0M827.4 590.9h0M828.6 592.2h0M830.2 591.2h0M831.5 592.7h0M833 591.5h0M834.6 591.3h0M835.9 592.2h0M837.3 591.9h0M838.7 591.4h0M840.3 592.5h0M841.7 592.1h0M843.2 591.9h0M844.6 591.4h0M846 592.2h0M847.6 594.5h0M849.1 593.7h0M850.4 592.4h0M852 592h0M853.3 591.4h0M854.9 592.7h0M856.2 591.6h0M857.8 589.7h0M898.4 585h0M992.5 586.4h0M24.5 607h0"/><path class="p" stroke="#1fa9e6" d="M41.8 572.5h0M43.4 573.4h0M45 576h0M46.3 575.2h0M47.6 576.8h0M54.7 572.6h0M56.3 573.4h0M57.9 573.1h0M59.2 572.4h0M60.4 575.3h0M61.9 577.2h0M63.6 578.4h0M65 578.9h0M66.5 578.4h0M68 573.2h0M69.1 571.7h0M70.8 573.6h0M72.3 578.8h0M73.8 578.4h0M74.9 580.5h0M76.6 580.7h0M77.8 580.9h0M79.6 582.4h0M80.8 583.4h0M82.5 582.4h0M83.8 581.4h0M85.3 580.8h0M86.7 580.4h0M88.2 578.6h0M89.5 578.8h0M91.1 578.9h0M92.4 579.7h0M94 579.4h0M95.4 580.1h0M96.7 580.7h0M98.2 580.7h0M99.8 581.5h0M101.2 581.5h0M102.8 580.5h0M104.1 581h0M105.5 580.9h0M107.1 582.6h0M108.5 583h0M109.9 583.4h0M111.3 583.5h0M112.9 583.2h0M114.1 583.6h0M115.8 582.4h0M117.2 582.9h0M118.7 582.5h0M119.9 581.6h0M121.3 582h0M123 583.5h0M124.6 583.2h0M125.7 583.9h0M127.1 583.5h0M128.8 584.9h0M130.1 584.9h0M138.8 583.9h0M140.5 582.9h0M141.7 581.2h0M143.4 579.6h0M144.6 579.3h0M146.1 580.3h0M147.8 579.7h0M149 581.3h0M150.4 582.4h0M151.9 581.9h0M153.2 583.1h0M155 583.7h0M156.4 583.4h0M157.6 583.7h0M159.3 582.2h0M160.6 582.9h0M162.2 581.4h0M163.4 581.9h0M165 580.2h0M166.3 576.8h0M168 573.9h0M169.4 573.7h0M170.7 576.8h0M172.2 578.9h0M173.9 580.4h0M175.3 581.3h0M176.7 582.7h0M178.1 582.9h0M179.3 583.1h0M181.1 583.8h0M182.5 582.7h0M184 583h0M185.3 582.3h0M186.8 583.1h0M188.3 584.7h0M194.2 583.9h0M195.4 581.3h0M196.7 581.8h0M198.2 581.9h0M199.8 582.7h0M201.2 583.8h0M208.7 583.9h0M214.2 583.1h0M215.8 582.4h0M217.1 584.5h0M222.9 584.1h0M224.5 584.5h0M225.9 584h0M227.5 583.5h0M228.9 583.9h0M230.3 583.8h0M231.6 583.1h0M233.2 578.6h0M234.6 574.1h0M235.9 577.3h0M237.6 580.1h0M238.9 583.3h0M277.9 582.2h0M279.5 580.7h0M281.2 580.8h0M282.6 582.1h0M283.9 584.7h0M299.7 585.2h0M301.3 580.2h0M302.6 576.1h0M304.1 581.3h0M305.7 583.3h0M325.9 584.2h0M331.6 582.2h0M333.1 583.6h0M334.8 584.5h0M336.2 585h0M343.5 584.1h0M349.1 582.4h0M350.7 580.9h0M352.2 578.6h0M353.3 580.9h0M355 583.5h0M356.3 583.8h0M357.8 585h0M359.2 584.9h0M360.8 584.6h0M362.2 584.3h0M363.7 583.7h0M365 584.9h0M366.6 584.6h0M368.1 583.7h0M369.3 580.9h0M370.7 572.1h0M372.2 575.7h0M373.7 580.6h0M375.2 583.6h0M413 581.5h0M414.5 584.6h0M436 584.7h0M437.5 585.5h0M439.2 583.2h0M440.6 579.3h0M441.8 574.7h0M443.4 577.6h0M465 583.1h0M466.4 583.2h0M467.9 582.7h0M469.4 583.5h0M470.9 584h0M472.3 582.8h0M473.7 584h0M475.1 583.9h0M476.7 584.3h0M478.3 583.7h0M479.5 582.7h0M481.1 583.9h0M486.8 583.8h0M488.4 583.2h0M489.9 582.7h0M491.1 583.6h0M492.7 582.9h0M497 584h0M498.7 584.1h0M500.1 583.9h0M501.5 582.7h0M507.3 581.7h0M508.6 581.5h0M510 581.1h0M511.6 578.9h0M513.1 579.1h0M583.1 576.6h0M584.4 578.3h0M585.8 580.3h0M587.3 579.5h0M589 581.6h0M590.3 582.4h0M591.8 583.4h0M593.1 582.9h0M594.5 583.9h0M596.1 582.2h0M597.4 582.8h0M599.1 582.8h0M600.3 582.5h0M601.8 583.9h0M603.5 585.1h0M604.9 584.4h0M606.1 585h0M607.5 585.1h0M609.1 582.1h0M610.5 580.1h0M612.2 578.6h0M613.6 581h0M614.9 583.3h0M616.3 583.5h0M617.8 584.4h0M619.3 584.4h0M620.7 584.2h0M623.4 582.7h0M624.9 581.2h0M626.6 581.9h0M628.1 582.6h0M629.4 583.8h0M630.7 583.7h0M632.2 583.3h0M633.6 583.7h0M635.2 583.6h0M636.6 583.5h0M638.2 582.7h0M639.6 584.1h0M641 583.3h0M642.6 585.3h0M643.7 585.1h0M649.7 576h0M651.1 583.7h0M720.6 581.9h0M721.8 577.4h0M723.5 575h0M725 577h0M726.2 580.5h0M727.7 579.2h0M729.2 580.5h0M730.5 580.9h0M732 580.3h0M733.4 582.5h0M735.1 581.7h0M736.5 582h0M737.8 582.3h0M739.5 583.7h0M740.8 583.5h0M742.2 583.1h0M743.8 583.8h0M749.4 583.8h0M750.8 583.8h0M752.3 582.6h0M753.9 585.6h0M756.9 585.7h0M758.2 583.8h0M759.6 583.9h0M760.9 582h0M762.7 581.8h0M764 580.7h0M765.4 582.1h0M767 581.4h0M768.3 582.8h0M769.9 581.7h0M771.4 583.6h0M772.6 584.7h0M775.6 584h0M777.2 583.7h0M778.5 582.3h0M779.8 580.9h0M781.5 581h0M782.8 581h0M784.1 581.4h0M785.9 580.8h0M787.3 579.2h0M788.8 577.2h0M866.1 573.4h0M867.6 575.6h0M869.2 576.7h0M870.6 578.7h0M872.2 578.9h0M873.7 580.7h0M874.8 581.5h0M876.3 582.7h0M877.7 582.9h0M879.4 583.1h0M880.9 584.6h0M882.3 584.4h0M883.6 584.5h0M885.2 584h0M886.5 584.2h0M888 583.1h0M889.4 582.1h0M891 582.8h0M892.5 581.1h0M894 581h0M895.1 581.4h0M896.8 582h0M899.6 584.7h0M901.2 583.6h0M902.5 583.1h0M904.2 583.9h0M905.4 582.1h0M906.8 582.7h0M908.5 582.9h0M909.9 582.1h0M911.1 582.4h0M912.6 583.2h0M914 581.6h0M915.4 581.9h0M917 581.8h0M918.5 582.8h0M920 582.6h0M921.5 582.5h0M923 580.6h0M924.3 580.7h0M925.7 580.8h0M927.4 580.9h0M928.5 580.9h0M930.3 578.6h0M931.6 575.7h0M933 577.5h0M934.4 579.4h0M936 579.5h0M937.4 578.4h0M939 578.3h0M940.3 577.3h0M941.6 576.3h0M943 575.9h0M944.5 577.6h0M945.9 579h0M947.6 579.5h0M948.8 579.3h0M950.4 581h0M951.8 581.2h0M953.5 580h0M954.9 579.7h0M956.1 581.1h0M957.8 580.9h0M959.2 580.5h0M960.6 582.1h0M961.8 581.9h0M963.3 582.7h0M965 582.5h0M966.4 581.8h0M967.9 582.1h0M969.4 581.6h0M970.8 582.3h0M972.3 582.4h0M973.6 582.1h0M975 581.6h0M976.6 581.9h0M977.9 583.2h0M979.6 583.9h0M980.7 583.2h0M982.4 581.7h0M983.6 580.4h0M985.2 577.4h0M986.8 574.6h0M987.9 577.8h0M989.5 581.9h0M990.9 582.5h0M993.8 582.7h0M995.4 580.4h0M996.7 574h0M998.4 574.5h0M999.7 575.6h0M1001.3 577.1h0M649.5 580h0"/><path class="p" stroke="#56ad1c" d="M26.1 565.5h0M27.3 564.5h0M28.9 564.4h0M30.2 564.5h0M31.6 565.2h0M33.2 561.3h0M34.5 560.7h0M36.3 563.7h0M37.5 565.1h0M38.9 567.4h0M40.6 569.8h0M49 566.3h0M50.4 563.9h0M52 565.6h0M53.2 569.3h0M860.6 561.3h0M862.1 564.6h0M863.5 567.9h0M864.8 571.2h0M168.5 561h0M233.5 567.5h0M234 569.3h0M511 570h0M582 570h0M721.5 561h0M721.5 568.4h0M932 570.6h0M984.5 566.8h0"/>
<path class="d" d="M25 584H1001.7"/>
<text class="y" x="27" y="560.7">10.0</text>
<text class="y" x="27" y="597.8">5.0</text>
<text class="y" x="27" y="633">0.0</text>
<text class="x" x="163.5" y="627.2">2.00</text>
<text class="x" x="232.9" y="627.2">3.00</text>
<text class="x" x="302.2" y="627.2">4.00</text>
<text class="x" x="371.5" y="627.2">5.00</text>
<text class="x" x="440.8" y="627.2">6.00</text>
<text class="x" x="510.1" y="627.2">7.00</text>
<text class="x" x="579.5" y="627.2">8.00</text>
<text class="x" x="648.8" y="627.2">9.00</text>
<text class="x" x="718.1" y="627.2">10.00</text>
<text class="x" x="787.4" y="627.2">11.00</text>
<text class="x" x="856.7" y="627.2">12.00</text>
<text class="x" x="926.1" y="627.2">13.00</text>
<text class="x" x="995.4" y="627.2">14.00</text>
<rect x="920" y="586.8" width="66.2" height="16.6" fill="#ffffee" fill-opacity="0.72"/>
<text class="a" x="981.6" y="600.1"><tspan class="j">平均：</tspan>6.5 %</text>
</g>
</svg>
</body></html>
